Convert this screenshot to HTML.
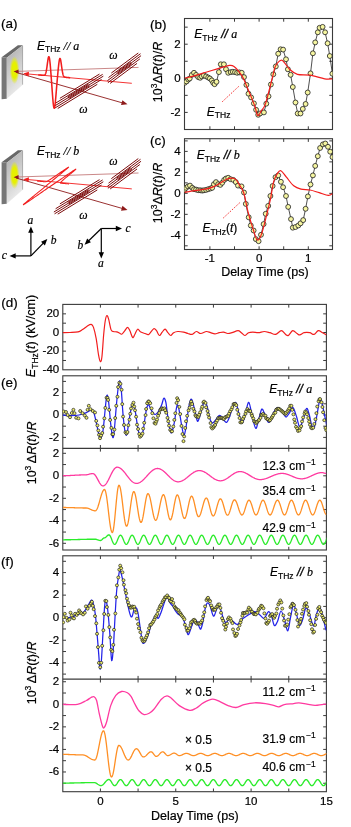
<!DOCTYPE html>
<html><head><meta charset="utf-8"><style>
html,body{margin:0;padding:0;background:#fff;}
svg{display:block;will-change:transform;}
text{font-family:"Liberation Sans",sans-serif;fill:#000;stroke:#000;stroke-width:0.2px;}
.serif{font-family:"Liberation Serif",serif;}
</style></head><body>
<svg width="351" height="827" viewBox="0 0 351 827">
<rect width="351" height="827" fill="#fff"/>
<text x="0.9" y="28.4" font-size="13.5" text-anchor="start" >(a)</text>
<text x="150.1" y="28.5" font-size="13.5" text-anchor="start" >(b)</text>
<text x="150" y="145.4" font-size="13.5" text-anchor="start" >(c)</text>
<text x="1.2" y="307.3" font-size="13.5" text-anchor="start" >(d)</text>
<text x="1" y="386.9" font-size="13.5" text-anchor="start" >(e)</text>
<text x="0.9" y="566.4" font-size="13.5" text-anchor="start" >(f)</text>
<rect x="184.5" y="18.5" width="148" height="111" fill="none" stroke="#3a3a3a" stroke-width="1.1"/>
<path d="M209.9,18.5v3.2M209.9,129.5v-3.2M234.5,18.5v3.2M234.5,129.5v-3.2M259.1,18.5v3.2M259.1,129.5v-3.2M283.7,18.5v3.2M283.7,129.5v-3.2M308.3,18.5v3.2M308.3,129.5v-3.2" stroke="#3a3a3a" stroke-width="1"/>
<path d="M184.5,27.15h3.2M332.5,27.15h-3.2M184.5,44.2h3.2M332.5,44.2h-3.2M184.5,61.25h3.2M332.5,61.25h-3.2M184.5,78.3h3.2M332.5,78.3h-3.2M184.5,95.35h3.2M332.5,95.35h-3.2M184.5,112.4h3.2M332.5,112.4h-3.2" stroke="#3a3a3a" stroke-width="1"/>
<text x="180.7" y="47.6" font-size="11.5" text-anchor="end" >2</text>
<text x="180.7" y="81.7" font-size="11.5" text-anchor="end" >0</text>
<text x="180.7" y="115.8" font-size="11.5" text-anchor="end" >-2</text>
<rect x="184.5" y="138.7" width="148" height="110.8" fill="none" stroke="#3a3a3a" stroke-width="1.1"/>
<path d="M209.9,138.7v3.2M209.9,249.5v-3.2M234.5,138.7v3.2M234.5,249.5v-3.2M259.1,138.7v3.2M259.1,249.5v-3.2M283.7,138.7v3.2M283.7,249.5v-3.2M308.3,138.7v3.2M308.3,249.5v-3.2" stroke="#3a3a3a" stroke-width="1"/>
<path d="M184.5,140.9h3.2M332.5,140.9h-3.2M184.5,151.39h3.2M332.5,151.39h-3.2M184.5,161.88h3.2M332.5,161.88h-3.2M184.5,172.37h3.2M332.5,172.37h-3.2M184.5,182.86h3.2M332.5,182.86h-3.2M184.5,193.35h3.2M332.5,193.35h-3.2M184.5,203.84h3.2M332.5,203.84h-3.2M184.5,214.33h3.2M332.5,214.33h-3.2M184.5,224.82h3.2M332.5,224.82h-3.2M184.5,235.31h3.2M332.5,235.31h-3.2M184.5,245.8h3.2M332.5,245.8h-3.2" stroke="#3a3a3a" stroke-width="1"/>
<text x="180.7" y="154.79" font-size="11.5" text-anchor="end" >4</text>
<text x="180.7" y="175.77" font-size="11.5" text-anchor="end" >2</text>
<text x="180.7" y="196.75" font-size="11.5" text-anchor="end" >0</text>
<text x="180.7" y="217.73" font-size="11.5" text-anchor="end" >-2</text>
<text x="180.7" y="238.71" font-size="11.5" text-anchor="end" >-4</text>
<text x="209.9" y="262" font-size="11.5" text-anchor="middle" >-1</text>
<text x="259.1" y="262" font-size="11.5" text-anchor="middle" >0</text>
<text x="308.3" y="262" font-size="11.5" text-anchor="middle" >1</text>
<text x="264.9" y="276.2" font-size="12.5" text-anchor="middle" >Delay Time (ps)</text>
<text transform="translate(161.8,72) rotate(-90)" font-size="12.5" text-anchor="middle">10<tspan font-size="8.5" dy="-4.5">3</tspan><tspan dy="4.5">&#916;</tspan><tspan font-style="italic">R</tspan>(<tspan font-style="italic">t</tspan>)/<tspan font-style="italic">R</tspan></text>
<text transform="translate(161.8,193) rotate(-90)" font-size="12.5" text-anchor="middle">10<tspan font-size="8.5" dy="-4.5">3</tspan><tspan dy="4.5">&#916;</tspan><tspan font-style="italic">R</tspan>(<tspan font-style="italic">t</tspan>)/<tspan font-style="italic">R</tspan></text>
<rect x="62.8" y="304.4" width="263.6" height="65.4" fill="none" stroke="#3a3a3a" stroke-width="1.1"/>
<path d="M100.4,304.4v3.2M100.4,369.8v-3.2M138.07,304.4v3.2M138.07,369.8v-3.2M175.75,304.4v3.2M175.75,369.8v-3.2M213.43,304.4v3.2M213.43,369.8v-3.2M251.1,304.4v3.2M251.1,369.8v-3.2M288.77,304.4v3.2M288.77,369.8v-3.2" stroke="#3a3a3a" stroke-width="1"/>
<path d="M62.8,313.85h3.2M326.4,313.85h-3.2M62.8,323.18h3.2M326.4,323.18h-3.2M62.8,332.5h3.2M326.4,332.5h-3.2M62.8,341.82h3.2M326.4,341.82h-3.2M62.8,351.15h3.2M326.4,351.15h-3.2M62.8,360.48h3.2M326.4,360.48h-3.2" stroke="#3a3a3a" stroke-width="1"/>
<text x="59.2" y="317.15" font-size="11.5" text-anchor="end" >20</text>
<text x="59.2" y="335.8" font-size="11.5" text-anchor="end" >0</text>
<text x="59.2" y="354.45" font-size="11.5" text-anchor="end" >-20</text>
<text x="59.2" y="373.1" font-size="11.5" text-anchor="end" >-40</text>
<text transform="translate(35.2,336) rotate(-90)" font-size="12.5" text-anchor="middle"><tspan font-style="italic">E</tspan><tspan font-size="8.5" dy="2.5">THz</tspan><tspan dy="-2.5">(</tspan><tspan font-style="italic">t</tspan>) (kV/cm)</text>
<rect x="62.8" y="375.8" width="263.6" height="174.2" fill="none" stroke="#3a3a3a" stroke-width="1.1"/>
<path d="M62.8,448.3H326.4" stroke="#3a3a3a" stroke-width="1.2"/>
<path d="M100.4,375.8v3.2M100.4,550v-3.2M138.07,375.8v3.2M138.07,550v-3.2M175.75,375.8v3.2M175.75,550v-3.2M213.43,375.8v3.2M213.43,550v-3.2M251.1,375.8v3.2M251.1,550v-3.2M288.77,375.8v3.2M288.77,550v-3.2" stroke="#3a3a3a" stroke-width="1"/>
<path d="M100.4,445v6.6M138.07,445v6.6M175.75,445v6.6M213.43,445v6.6M251.1,445v6.6M288.77,445v6.6" stroke="#3a3a3a" stroke-width="1"/>
<path d="M62.8,381.4h3.2M326.4,381.4h-3.2M62.8,392.6h3.2M326.4,392.6h-3.2M62.8,403.8h3.2M326.4,403.8h-3.2M62.8,415h3.2M326.4,415h-3.2M62.8,426.2h3.2M326.4,426.2h-3.2M62.8,437.4h3.2M326.4,437.4h-3.2" stroke="#3a3a3a" stroke-width="1"/>
<path d="M62.8,453.3h3.2M326.4,453.3h-3.2M62.8,464.55h3.2M326.4,464.55h-3.2M62.8,475.8h3.2M326.4,475.8h-3.2M62.8,487.05h3.2M326.4,487.05h-3.2M62.8,498.3h3.2M326.4,498.3h-3.2M62.8,509.55h3.2M326.4,509.55h-3.2M62.8,520.8h3.2M326.4,520.8h-3.2M62.8,532.05h3.2M326.4,532.05h-3.2M62.8,543.3h3.2M326.4,543.3h-3.2" stroke="#3a3a3a" stroke-width="1"/>
<text x="59.2" y="395.9" font-size="11.5" text-anchor="end" >2</text>
<text x="59.2" y="418.3" font-size="11.5" text-anchor="end" >0</text>
<text x="59.2" y="440.7" font-size="11.5" text-anchor="end" >-2</text>
<text x="59.2" y="456.6" font-size="11.5" text-anchor="end" >2</text>
<text x="59.2" y="479.1" font-size="11.5" text-anchor="end" >0</text>
<text x="59.2" y="501.6" font-size="11.5" text-anchor="end" >-2</text>
<text x="59.2" y="524.1" font-size="11.5" text-anchor="end" >-4</text>
<text x="59.2" y="546.6" font-size="11.5" text-anchor="end" >-6</text>
<text transform="translate(35.6,452.9) rotate(-90)" font-size="12.5" text-anchor="middle">10<tspan font-size="8.5" dy="-4.5">3</tspan><tspan dy="4.5">&#8201;&#916;</tspan><tspan font-style="italic">R</tspan>(<tspan font-style="italic">t</tspan>)/<tspan font-style="italic">R</tspan></text>
<rect x="62.8" y="555.8" width="263.6" height="235.9" fill="none" stroke="#3a3a3a" stroke-width="1.1"/>
<path d="M62.8,679.2H326.4" stroke="#3a3a3a" stroke-width="1.2"/>
<path d="M100.4,555.8v3.2M100.4,791.7v-3.2M138.07,555.8v3.2M138.07,791.7v-3.2M175.75,555.8v3.2M175.75,791.7v-3.2M213.43,555.8v3.2M213.43,791.7v-3.2M251.1,555.8v3.2M251.1,791.7v-3.2M288.77,555.8v3.2M288.77,791.7v-3.2" stroke="#3a3a3a" stroke-width="1"/>
<path d="M100.4,675.9v6.6M138.07,675.9v6.6M175.75,675.9v6.6M213.43,675.9v6.6M251.1,675.9v6.6M288.77,675.9v6.6" stroke="#3a3a3a" stroke-width="1"/>
<path d="M62.8,561.3h3.2M326.4,561.3h-3.2M62.8,572.58h3.2M326.4,572.58h-3.2M62.8,583.86h3.2M326.4,583.86h-3.2M62.8,595.14h3.2M326.4,595.14h-3.2M62.8,606.42h3.2M326.4,606.42h-3.2M62.8,617.7h3.2M326.4,617.7h-3.2M62.8,628.98h3.2M326.4,628.98h-3.2M62.8,640.26h3.2M326.4,640.26h-3.2M62.8,651.54h3.2M326.4,651.54h-3.2M62.8,662.82h3.2M326.4,662.82h-3.2M62.8,674.1h3.2M326.4,674.1h-3.2" stroke="#3a3a3a" stroke-width="1"/>
<path d="M62.8,681.74h3.2M326.4,681.74h-3.2M62.8,693.02h3.2M326.4,693.02h-3.2M62.8,704.3h3.2M326.4,704.3h-3.2M62.8,715.58h3.2M326.4,715.58h-3.2M62.8,726.86h3.2M326.4,726.86h-3.2M62.8,738.14h3.2M326.4,738.14h-3.2M62.8,749.42h3.2M326.4,749.42h-3.2M62.8,760.7h3.2M326.4,760.7h-3.2M62.8,771.98h3.2M326.4,771.98h-3.2M62.8,783.26h3.2M326.4,783.26h-3.2" stroke="#3a3a3a" stroke-width="1"/>
<text x="59.2" y="575.88" font-size="11.5" text-anchor="end" >4</text>
<text x="59.2" y="598.44" font-size="11.5" text-anchor="end" >2</text>
<text x="59.2" y="621" font-size="11.5" text-anchor="end" >0</text>
<text x="59.2" y="643.56" font-size="11.5" text-anchor="end" >-2</text>
<text x="59.2" y="666.12" font-size="11.5" text-anchor="end" >-4</text>
<text x="59.2" y="685.04" font-size="11.5" text-anchor="end" >2</text>
<text x="59.2" y="707.6" font-size="11.5" text-anchor="end" >0</text>
<text x="59.2" y="730.16" font-size="11.5" text-anchor="end" >-2</text>
<text x="59.2" y="752.72" font-size="11.5" text-anchor="end" >-4</text>
<text x="59.2" y="775.28" font-size="11.5" text-anchor="end" >-6</text>
<text transform="translate(35.6,672.9) rotate(-90)" font-size="12.5" text-anchor="middle">10<tspan font-size="8.5" dy="-4.5">3</tspan><tspan dy="4.5">&#8201;&#916;</tspan><tspan font-style="italic">R</tspan>(<tspan font-style="italic">t</tspan>)/<tspan font-style="italic">R</tspan></text>
<text x="100.4" y="805.3" font-size="11.5" text-anchor="middle" >0</text>
<text x="175.75" y="805.3" font-size="11.5" text-anchor="middle" >5</text>
<text x="251.1" y="805.3" font-size="11.5" text-anchor="middle" >10</text>
<text x="326.45" y="805.3" font-size="11.5" text-anchor="middle" >15</text>
<text x="194.8" y="820.3" font-size="12.5" text-anchor="middle" >Delay Time (ps)</text>
<defs><clipPath id="cb"><rect x="184.5" y="18.5" width="148" height="111"/></clipPath><clipPath id="cc"><rect x="184.5" y="138.7" width="148" height="110.8"/></clipPath><clipPath id="cd"><rect x="62.8" y="304.4" width="263.6" height="65.4"/></clipPath><clipPath id="ce1"><rect x="62.8" y="375.8" width="263.6" height="72.5"/></clipPath><clipPath id="ce2"><rect x="62.8" y="448.3" width="263.6" height="101.7"/></clipPath><clipPath id="cf1"><rect x="62.8" y="555.8" width="263.6" height="123.4"/></clipPath><clipPath id="cf2"><rect x="62.8" y="679.2" width="263.6" height="112.5"/></clipPath></defs>
<g clip-path="url(#cb)">
<path d="M184.7,82.8L186.6,81.4L188.3,79.5L189.7,78.5L191.8,74.9L194,72.8L196.1,74.9L198.2,77.1L200.1,77.8L201.8,76.4L203.9,75.4L206.1,76.4L208.2,77.5L209.9,78.5L211.8,80.4L213.2,82.8L214.6,84.2L216.5,81.8L218.9,72.1L220.8,64.3L223.9,64.3L226,69.2L228.2,72.8L230.7,72.1L232.8,71.8L235,72.1L237.1,72.8L239.3,72.4L241.7,72.8L244,77.1L246.4,84.9L248.5,93.7L251.1,97.4L253.9,103.4L256.1,109.8L258.2,114.8L260.2,113.4L263.9,112.4L266.3,103.7L268.5,96.3L270.9,84.5L273.3,74.3L275.8,66.4L278.2,53.7L280.6,49.3L283.1,49.6L286,59.3L287.9,69.3L290.6,74.8L292.8,87L295.5,102.5L297.7,113.5L300.5,113.5L302.8,108.9L305.6,104L307.7,92.5L310.5,73.4L312.9,53.3L315.2,42.4L317.8,32.3L319.6,27.8L322.6,26.9L325.1,32.3L327.6,43.3L329.8,56L332.4,73.7" fill="none" stroke="#222" stroke-width="0.8" stroke-linejoin="round" />
<g fill="#f5f5a0" stroke="#1e1e1e" stroke-width="0.8"><circle cx="184.7" cy="82.8" r="2.45"/><circle cx="186.6" cy="81.4" r="2.45"/><circle cx="188.3" cy="79.5" r="2.45"/><circle cx="189.7" cy="78.5" r="2.45"/><circle cx="191.8" cy="74.9" r="2.45"/><circle cx="194" cy="72.8" r="2.45"/><circle cx="196.1" cy="74.9" r="2.45"/><circle cx="198.2" cy="77.1" r="2.45"/><circle cx="200.1" cy="77.8" r="2.45"/><circle cx="201.8" cy="76.4" r="2.45"/><circle cx="203.9" cy="75.4" r="2.45"/><circle cx="206.1" cy="76.4" r="2.45"/><circle cx="208.2" cy="77.5" r="2.45"/><circle cx="209.9" cy="78.5" r="2.45"/><circle cx="211.8" cy="80.4" r="2.45"/><circle cx="213.2" cy="82.8" r="2.45"/><circle cx="214.6" cy="84.2" r="2.45"/><circle cx="216.5" cy="81.8" r="2.45"/><circle cx="218.9" cy="72.1" r="2.45"/><circle cx="220.8" cy="64.3" r="2.45"/><circle cx="223.9" cy="64.3" r="2.45"/><circle cx="226" cy="69.2" r="2.45"/><circle cx="228.2" cy="72.8" r="2.45"/><circle cx="230.7" cy="72.1" r="2.45"/><circle cx="232.8" cy="71.8" r="2.45"/><circle cx="235" cy="72.1" r="2.45"/><circle cx="237.1" cy="72.8" r="2.45"/><circle cx="239.3" cy="72.4" r="2.45"/><circle cx="241.7" cy="72.8" r="2.45"/><circle cx="244" cy="77.1" r="2.45"/><circle cx="246.4" cy="84.9" r="2.45"/><circle cx="248.5" cy="93.7" r="2.45"/><circle cx="251.1" cy="97.4" r="2.45"/><circle cx="253.9" cy="103.4" r="2.45"/><circle cx="256.1" cy="109.8" r="2.45"/><circle cx="258.2" cy="114.8" r="2.45"/><circle cx="260.2" cy="113.4" r="2.45"/><circle cx="263.9" cy="112.4" r="2.45"/><circle cx="266.3" cy="103.7" r="2.45"/><circle cx="268.5" cy="96.3" r="2.45"/><circle cx="270.9" cy="84.5" r="2.45"/><circle cx="273.3" cy="74.3" r="2.45"/><circle cx="275.8" cy="66.4" r="2.45"/><circle cx="278.2" cy="53.7" r="2.45"/><circle cx="280.6" cy="49.3" r="2.45"/><circle cx="283.1" cy="49.6" r="2.45"/><circle cx="286" cy="59.3" r="2.45"/><circle cx="287.9" cy="69.3" r="2.45"/><circle cx="290.6" cy="74.8" r="2.45"/><circle cx="292.8" cy="87" r="2.45"/><circle cx="295.5" cy="102.5" r="2.45"/><circle cx="297.7" cy="113.5" r="2.45"/><circle cx="300.5" cy="113.5" r="2.45"/><circle cx="302.8" cy="108.9" r="2.45"/><circle cx="305.6" cy="104" r="2.45"/><circle cx="307.7" cy="92.5" r="2.45"/><circle cx="310.5" cy="73.4" r="2.45"/><circle cx="312.9" cy="53.3" r="2.45"/><circle cx="315.2" cy="42.4" r="2.45"/><circle cx="317.8" cy="32.3" r="2.45"/><circle cx="319.6" cy="27.8" r="2.45"/><circle cx="322.6" cy="26.9" r="2.45"/><circle cx="325.1" cy="32.3" r="2.45"/><circle cx="327.6" cy="43.3" r="2.45"/><circle cx="329.8" cy="56" r="2.45"/><circle cx="332.4" cy="73.7" r="2.45"/></g>
<path d="M184.5,78.2C186.25,77.77 191.42,76.6 195,75.6C198.58,74.6 202.28,73.32 206,72.2C209.72,71.08 213.57,70 217.3,68.9C221.03,67.8 225.62,66 228.4,65.6C231.18,65.2 231.77,64.83 234,66.5C236.23,68.17 239.8,72.62 241.8,75.6C243.8,78.58 244.52,81.07 246,84.4C247.48,87.73 249.2,91.88 250.7,95.6C252.2,99.32 253.82,103.37 255,106.7C256.18,110.03 256.72,114.97 257.8,115.6C258.88,116.23 260.2,112.53 261.5,110.5C262.8,108.47 263.73,109.08 265.6,103.4C267.47,97.72 271.05,82.62 272.7,76.4C274.35,70.18 274.12,68.8 275.5,66.1C276.88,63.4 279.48,60.75 281,60.2C282.52,59.65 283.1,61.22 284.6,62.8C286.1,64.38 287.87,67.78 290,69.7C292.13,71.62 294.05,73.38 297.4,74.3C300.75,75.22 305.55,74.45 310.1,75.2C314.65,75.95 320.97,78.2 324.7,78.8C328.43,79.4 331.2,78.8 332.5,78.8" fill="none" stroke="#f21d1d" stroke-width="1.2" stroke-linejoin="round" />
</g>
<g clip-path="url(#cc)">
<path d="M184.4,189.9L186.1,187.8L188,186.4L190,185.6L192.3,187.8L194,189.2L196.1,189.6L198.2,190.2L200.4,190.3L202.2,190.6L203.9,190.3L206.1,189.9L208.2,189.2L210.4,188.5L212.2,187.8L213.9,184.2L216,182.1L218.2,184.2L220.3,184.9L222.2,182.8L224.2,179.9L226,178.5L228.2,177.8L230.6,179.2L233.3,179.9L235.8,182.1L238,185.6L241.5,186.4L244,192.5L245.8,203.9L248.7,217.3L250.8,225.5L253.6,230.5L255.8,239.1L258.6,241.2L261,234.8L263.6,224.1L265.7,213.8L268.2,205.9L270.4,196L272.6,186L275.5,177.2L278.2,175.4L280.9,181.8L283.1,187.2L286,196L288.2,206.9L291,219.1L292.8,227.7L295.5,227L298.3,225.5L300.6,223.3L303.2,220.1L305.6,208.8L307.9,196.4L310.5,184.5L312.9,175.4L315.2,165.9L317.8,156.2L320.1,148L322.9,144.4L325.3,143.5L328,146.8L330.2,151.7L332.5,157.1" fill="none" stroke="#222" stroke-width="0.8" stroke-linejoin="round" />
<g fill="#f5f5a0" stroke="#1e1e1e" stroke-width="0.8"><circle cx="184.4" cy="189.9" r="2.45"/><circle cx="186.1" cy="187.8" r="2.45"/><circle cx="188" cy="186.4" r="2.45"/><circle cx="190" cy="185.6" r="2.45"/><circle cx="192.3" cy="187.8" r="2.45"/><circle cx="194" cy="189.2" r="2.45"/><circle cx="196.1" cy="189.6" r="2.45"/><circle cx="198.2" cy="190.2" r="2.45"/><circle cx="200.4" cy="190.3" r="2.45"/><circle cx="202.2" cy="190.6" r="2.45"/><circle cx="203.9" cy="190.3" r="2.45"/><circle cx="206.1" cy="189.9" r="2.45"/><circle cx="208.2" cy="189.2" r="2.45"/><circle cx="210.4" cy="188.5" r="2.45"/><circle cx="212.2" cy="187.8" r="2.45"/><circle cx="213.9" cy="184.2" r="2.45"/><circle cx="216" cy="182.1" r="2.45"/><circle cx="218.2" cy="184.2" r="2.45"/><circle cx="220.3" cy="184.9" r="2.45"/><circle cx="222.2" cy="182.8" r="2.45"/><circle cx="224.2" cy="179.9" r="2.45"/><circle cx="226" cy="178.5" r="2.45"/><circle cx="228.2" cy="177.8" r="2.45"/><circle cx="230.6" cy="179.2" r="2.45"/><circle cx="233.3" cy="179.9" r="2.45"/><circle cx="235.8" cy="182.1" r="2.45"/><circle cx="238" cy="185.6" r="2.45"/><circle cx="241.5" cy="186.4" r="2.45"/><circle cx="244" cy="192.5" r="2.45"/><circle cx="245.8" cy="203.9" r="2.45"/><circle cx="248.7" cy="217.3" r="2.45"/><circle cx="250.8" cy="225.5" r="2.45"/><circle cx="253.6" cy="230.5" r="2.45"/><circle cx="255.8" cy="239.1" r="2.45"/><circle cx="258.6" cy="241.2" r="2.45"/><circle cx="261" cy="234.8" r="2.45"/><circle cx="263.6" cy="224.1" r="2.45"/><circle cx="265.7" cy="213.8" r="2.45"/><circle cx="268.2" cy="205.9" r="2.45"/><circle cx="270.4" cy="196" r="2.45"/><circle cx="272.6" cy="186" r="2.45"/><circle cx="275.5" cy="177.2" r="2.45"/><circle cx="278.2" cy="175.4" r="2.45"/><circle cx="280.9" cy="181.8" r="2.45"/><circle cx="283.1" cy="187.2" r="2.45"/><circle cx="286" cy="196" r="2.45"/><circle cx="288.2" cy="206.9" r="2.45"/><circle cx="291" cy="219.1" r="2.45"/><circle cx="292.8" cy="227.7" r="2.45"/><circle cx="295.5" cy="227" r="2.45"/><circle cx="298.3" cy="225.5" r="2.45"/><circle cx="300.6" cy="223.3" r="2.45"/><circle cx="303.2" cy="220.1" r="2.45"/><circle cx="305.6" cy="208.8" r="2.45"/><circle cx="307.9" cy="196.4" r="2.45"/><circle cx="310.5" cy="184.5" r="2.45"/><circle cx="312.9" cy="175.4" r="2.45"/><circle cx="315.2" cy="165.9" r="2.45"/><circle cx="317.8" cy="156.2" r="2.45"/><circle cx="320.1" cy="148" r="2.45"/><circle cx="322.9" cy="144.4" r="2.45"/><circle cx="325.3" cy="143.5" r="2.45"/><circle cx="328" cy="146.8" r="2.45"/><circle cx="330.2" cy="151.7" r="2.45"/><circle cx="332.5" cy="157.1" r="2.45"/></g>
<path d="M184.5,192.5C185.6,192.27 188.82,191.48 191.1,191.1C193.38,190.72 195.82,190.52 198.2,190.2C200.58,189.88 203.02,189.72 205.4,189.2C207.78,188.68 210.13,188.05 212.5,187.1C214.87,186.15 217.23,184.82 219.6,183.5C221.97,182.18 224.63,180.08 226.7,179.2C228.77,178.32 230.45,178.13 232,178.2C233.55,178.27 234.77,178.48 236,179.6C237.23,180.72 238.12,182.7 239.4,184.9C240.68,187.1 242.28,188.4 243.7,192.8C245.12,197.2 246.37,205.37 247.9,211.3C249.43,217.23 251.35,223.65 252.9,228.4C254.45,233.15 255.77,238.85 257.2,239.8C258.63,240.75 259.83,238.62 261.5,234.1C263.17,229.58 265.7,218.55 267.2,212.7C268.7,206.85 269.43,204.15 270.5,199C271.57,193.85 272.47,186.03 273.6,181.8C274.73,177.57 276.08,175.43 277.3,173.6C278.52,171.77 279.38,170.2 280.9,170.8C282.42,171.4 284.27,174.7 286.4,177.2C288.53,179.7 291.27,183.82 293.7,185.8C296.13,187.78 298.27,188.4 301,189.1C303.73,189.8 307.07,189.4 310.1,190C313.13,190.6 316.15,191.8 319.2,192.7C322.25,193.6 326.18,195.25 328.4,195.4C330.62,195.55 331.82,193.9 332.5,193.6" fill="none" stroke="#f21d1d" stroke-width="1.2" stroke-linejoin="round" />
</g>
<path d="M222.2,101.8L239.6,85.6M223.2,218.1L240.3,202.2" stroke="#f21d1d" stroke-width="0.9" stroke-dasharray="1.6,1.4" fill="none"/>
<text x="206.8" y="115.6" font-size="12"><tspan font-style="italic">E</tspan><tspan font-size="8.5" dy="2.7">THz</tspan></text>
<text x="202.4" y="231.8" font-size="12"><tspan font-style="italic">E</tspan><tspan font-size="8.5" dy="2.7">THz</tspan><tspan dy="-2.7">(</tspan><tspan font-style="italic">t</tspan>)</text>
<text x="194.2" y="38.3" font-size="12"><tspan font-style="italic">E</tspan><tspan font-size="8.5" dy="2.7">THz</tspan><tspan dy="-2.7" font-style="italic" style="stroke-width:0.35px"> // </tspan><tspan class="serif" font-style="italic">a</tspan></text>
<text x="196.7" y="159.2" font-size="12"><tspan font-style="italic">E</tspan><tspan font-size="8.5" dy="2.7">THz</tspan><tspan dy="-2.7" font-style="italic" style="stroke-width:0.35px"> // </tspan><tspan class="serif" font-style="italic">b</tspan></text>
<g clip-path="url(#cd)">
<path d="M62.8,332.6C64,332.58 67.47,332.62 70,332.5C72.53,332.38 75.92,332.38 78,331.9C80.08,331.42 80.98,330.55 82.5,329.6C84.02,328.65 85.65,327.07 87.1,326.2C88.55,325.33 90.13,324.2 91.2,324.4C92.27,324.6 92.67,325.02 93.5,327.4C94.33,329.78 95.37,334.15 96.2,338.7C97.03,343.25 97.82,350.9 98.5,354.7C99.18,358.5 99.73,361.12 100.3,361.5C100.87,361.88 101.33,361.55 101.9,357C102.47,352.45 103.13,340.28 103.7,334.2C104.27,328.12 104.77,323.62 105.3,320.5C105.83,317.38 106.33,315.68 106.9,315.5C107.47,315.32 108.02,317.05 108.7,319.4C109.38,321.75 110.23,327.58 111,329.6C111.77,331.62 112.35,331.12 113.3,331.5C114.25,331.88 115.68,331.65 116.7,331.9C117.72,332.15 118.57,332.62 119.4,333C120.23,333.38 120.82,334.57 121.7,334.2C122.58,333.83 123.72,331.93 124.7,330.8C125.68,329.67 126.73,327.4 127.6,327.4C128.47,327.4 129.05,329.1 129.9,330.8C130.75,332.5 131.87,337.03 132.7,337.6C133.53,338.17 134.07,335.6 134.9,334.2C135.73,332.8 136.72,329.55 137.7,329.2C138.68,328.85 139.57,331.38 140.8,332.1C142.03,332.82 143.77,333.12 145.1,333.5C146.43,333.88 147.37,335.2 148.8,334.4C150.23,333.6 152.42,329.32 153.7,328.7C154.98,328.08 155.55,329.57 156.5,330.7C157.45,331.83 158.45,335.27 159.4,335.5C160.35,335.73 161.25,333.15 162.2,332.1C163.15,331.05 164.15,329.1 165.1,329.2C166.05,329.3 166.95,331.65 167.9,332.7C168.85,333.75 169.85,335.5 170.8,335.5C171.75,335.5 172.42,333.37 173.6,332.7C174.78,332.03 176.23,331.6 177.9,331.5C179.57,331.4 181.93,331.77 183.6,332.1C185.27,332.43 186.48,333.12 187.9,333.5C189.32,333.88 190.68,334.73 192.1,334.4C193.52,334.07 194.97,331.65 196.4,331.5C197.83,331.35 199.03,333.5 200.7,333.5C202.37,333.5 204.75,331.63 206.4,331.5C208.05,331.37 209.18,332.32 210.6,332.7C212.02,333.08 213.47,333.8 214.9,333.8C216.33,333.8 217.77,332.98 219.2,332.7C220.63,332.42 222.08,331.97 223.5,332.1C224.92,332.23 226.28,333.4 227.7,333.5C229.12,333.6 230.28,333.17 232,332.7C233.72,332.23 236.43,330.7 238,330.7C239.57,330.7 240.27,331.9 241.4,332.7C242.53,333.5 243.62,335.5 244.8,335.5C245.98,335.5 247.17,333.27 248.5,332.7C249.83,332.13 251.13,332.1 252.8,332.1C254.47,332.1 256.6,332.8 258.5,332.7C260.4,332.6 262.3,331.5 264.2,331.5C266.1,331.5 268,332.22 269.9,332.7C271.8,333.18 273.7,334.73 275.6,334.4C277.5,334.07 279.63,330.7 281.3,330.7C282.97,330.7 284.42,333.6 285.6,334.4C286.78,335.2 287.22,336.12 288.4,335.5C289.58,334.88 291.27,331.03 292.7,330.7C294.13,330.37 295.82,332.8 297,333.5C298.18,334.2 298.62,335.03 299.8,334.9C300.98,334.77 302.43,333.07 304.1,332.7C305.77,332.33 308.15,332.42 309.8,332.7C311.45,332.98 312.58,334.73 314,334.4C315.42,334.07 316.87,330.98 318.3,330.7C319.73,330.42 321.25,332 322.6,332.7C323.95,333.4 325.77,334.53 326.4,334.9" fill="none" stroke="#f21d1d" stroke-width="1.2" stroke-linejoin="round" />
</g>
<g clip-path="url(#ce1)">
<path d="M62.8,415.2C64.08,415.28 67.78,415.73 70.5,415.7C73.22,415.67 76.53,415.48 79.1,415C81.67,414.52 83.9,413.6 85.9,412.8C87.9,412 89.82,410.35 91.1,410.2C92.38,410.05 92.75,409.9 93.6,411.9C94.45,413.9 95.33,418.5 96.2,422.2C97.07,425.9 98.08,431.4 98.8,434.1C99.52,436.8 99.8,438.97 100.5,438.4C101.2,437.83 102.23,435.4 103,430.7C103.77,426 104.47,416.03 105.1,410.2C105.73,404.37 106.23,397.27 106.8,395.7C107.37,394.13 107.85,396.1 108.5,400.8C109.15,405.5 110.02,417.87 110.7,423.9C111.38,429.93 112.03,435.58 112.6,437C113.17,438.42 113.47,437.72 114.1,432.4C114.73,427.08 115.68,412.83 116.4,405.1C117.12,397.37 117.82,390 118.4,386C118.98,382 119.4,380.2 119.9,381.1C120.4,382 120.87,385.7 121.4,391.4C121.93,397.1 122.47,408.47 123.1,415.3C123.73,422.13 124.57,429.27 125.2,432.4C125.83,435.53 126.25,436.1 126.9,434.1C127.55,432.1 128.3,425.1 129.1,420.4C129.9,415.7 130.98,408.6 131.7,405.9C132.42,403.2 132.83,403.48 133.4,404.2C133.97,404.92 134.38,406.35 135.1,410.2C135.82,414.05 136.85,422.88 137.7,427.3C138.55,431.72 139.35,435.85 140.2,436.7C141.05,437.55 141.93,435.97 142.8,432.4C143.67,428.83 144.68,419.57 145.4,415.3C146.12,411.03 146.53,408.5 147.1,406.8C147.67,405.1 148.1,404.53 148.8,405.1C149.5,405.67 150.3,408.63 151.3,410.2C152.3,411.77 153.65,414.22 154.8,414.5C155.95,414.78 157.07,413.47 158.2,411.9C159.33,410.33 160.67,407.38 161.6,405.1C162.53,402.82 163.08,398.63 163.8,398.2C164.52,397.77 165.27,399.65 165.9,402.5C166.53,405.35 166.9,410.75 167.6,415.3C168.3,419.85 169.4,426.95 170.1,429.8C170.8,432.65 171.08,433.67 171.8,432.4C172.52,431.13 173.68,425.9 174.4,422.2C175.12,418.5 175.6,413.15 176.1,410.2C176.6,407.25 176.9,404.5 177.4,404.5C177.9,404.5 178.38,406.68 179.1,410.2C179.82,413.72 180.9,421.47 181.7,425.6C182.5,429.73 183.18,434.72 183.9,435C184.62,435.28 185.23,431.72 186,427.3C186.77,422.88 187.65,413.2 188.5,408.5C189.35,403.8 190.23,399.53 191.1,399.1C191.97,398.67 192.85,402.92 193.7,405.9C194.55,408.88 195.5,414.43 196.2,417C196.9,419.57 197.18,421.87 197.9,421.3C198.62,420.73 199.58,416.58 200.5,413.6C201.42,410.62 202.6,405.4 203.4,403.4C204.2,401.4 204.65,401.03 205.3,401.6C205.95,402.17 206.53,403.95 207.3,406.8C208.07,409.65 209.03,416 209.9,418.7C210.77,421.4 211.5,422.85 212.5,423C213.5,423.15 214.85,420.82 215.9,419.6C216.95,418.38 217.95,416.27 218.8,415.7C219.65,415.13 220.07,415.35 221,416.2C221.93,417.05 223.43,419.8 224.4,420.8C225.37,421.8 225.95,422.83 226.8,422.2C227.65,421.57 228.62,419.2 229.5,417C230.38,414.8 231.05,411.43 232.1,409C233.15,406.57 234.65,401.57 235.8,402.4C236.95,403.23 237.9,410.6 239,414C240.1,417.4 241.32,422.97 242.4,422.8C243.48,422.63 244.42,416.4 245.5,413C246.58,409.6 247.73,401.57 248.9,402.4C250.07,403.23 251.35,413.68 252.5,418C253.65,422.32 254.8,427.9 255.8,428.3C256.8,428.7 257.53,423.57 258.5,420.4C259.47,417.23 260.65,410.57 261.6,409.3C262.55,408.03 263.33,411.08 264.2,412.8C265.07,414.52 265.95,418.03 266.8,419.6C267.65,421.17 268.32,423.05 269.3,422.2C270.28,421.35 271.55,416.78 272.7,414.5C273.85,412.22 275.05,409.5 276.2,408.5C277.35,407.5 278.47,407.78 279.6,408.5C280.73,409.22 281.92,411.38 283,412.8C284.08,414.22 285.02,417 286.1,417C287.18,417 288.37,414.37 289.5,412.8C290.63,411.23 291.75,407.03 292.9,407.6C294.05,408.17 295.25,412.92 296.4,416.2C297.55,419.48 298.67,426.88 299.8,427.3C300.93,427.72 302.07,421.83 303.2,418.7C304.33,415.57 305.6,409.2 306.6,408.5C307.6,407.8 308.33,411.65 309.2,414.5C310.07,417.35 310.95,423.47 311.8,425.6C312.65,427.73 313.45,429.02 314.3,427.3C315.15,425.58 315.98,419.87 316.9,415.3C317.82,410.73 318.95,401.88 319.8,399.9C320.65,397.92 321.2,400.83 322,403.4C322.8,405.97 323.83,411.75 324.6,415.3C325.37,418.85 326.27,423.13 326.6,424.7" fill="none" stroke="#2323e8" stroke-width="1.25" stroke-linejoin="round" />
<g fill="#eded6a" stroke="#1e1e1e" stroke-width="0.7"><circle cx="63.7" cy="411.5" r="1.5"/><circle cx="66" cy="412" r="1.5"/><circle cx="67.7" cy="415" r="1.5"/><circle cx="70" cy="417.2" r="1.5"/><circle cx="71.8" cy="413" r="1.5"/><circle cx="73.4" cy="409.8" r="1.5"/><circle cx="74.5" cy="413.2" r="1.5"/><circle cx="76.2" cy="417.8" r="1.5"/><circle cx="78.5" cy="418.4" r="1.5"/><circle cx="80.2" cy="411" r="1.5"/><circle cx="82.5" cy="413.2" r="1.5"/><circle cx="84.8" cy="415.5" r="1.5"/><circle cx="86.5" cy="417.8" r="1.5"/><circle cx="87.6" cy="409.8" r="1.5"/><circle cx="88.8" cy="405.8" r="1.5"/><circle cx="90.5" cy="409.2" r="1.5"/><circle cx="92.8" cy="411" r="1.5"/><circle cx="95" cy="412.5" r="1.5"/><circle cx="96.19" cy="420.9" r="1.5"/><circle cx="97.39" cy="425.39" r="1.5"/><circle cx="98.32" cy="430.48" r="1.5"/><circle cx="99.03" cy="434.78" r="1.5"/><circle cx="100.02" cy="438.19" r="1.5"/><circle cx="101.04" cy="435.47" r="1.5"/><circle cx="102.25" cy="433.04" r="1.5"/><circle cx="103.07" cy="426.7" r="1.5"/><circle cx="104.38" cy="418.34" r="1.5"/><circle cx="105.35" cy="407.91" r="1.5"/><circle cx="106.59" cy="397.7" r="1.5"/><circle cx="107.52" cy="397.96" r="1.5"/><circle cx="108.09" cy="399.94" r="1.5"/><circle cx="109.19" cy="409.87" r="1.5"/><circle cx="110.11" cy="419.95" r="1.5"/><circle cx="111.38" cy="427.9" r="1.5"/><circle cx="112.33" cy="434.25" r="1.5"/><circle cx="113.04" cy="434.2" r="1.5"/><circle cx="114.41" cy="429.54" r="1.5"/><circle cx="115.19" cy="418.05" r="1.5"/><circle cx="116.27" cy="405.85" r="1.5"/><circle cx="117.48" cy="396.77" r="1.5"/><circle cx="118.15" cy="387.07" r="1.5"/><circle cx="119.32" cy="382.79" r="1.5"/><circle cx="120.44" cy="383.87" r="1.5"/><circle cx="121.59" cy="389.77" r="1.5"/><circle cx="122.25" cy="404.12" r="1.5"/><circle cx="123.09" cy="416.6" r="1.5"/><circle cx="124.02" cy="424.98" r="1.5"/><circle cx="125.46" cy="432.26" r="1.5"/><circle cx="126.53" cy="433.32" r="1.5"/><circle cx="127.42" cy="432.01" r="1.5"/><circle cx="128.35" cy="425.2" r="1.5"/><circle cx="129.5" cy="419.63" r="1.5"/><circle cx="130.28" cy="413.8" r="1.5"/><circle cx="131.04" cy="408.48" r="1.5"/><circle cx="132.39" cy="404.94" r="1.5"/><circle cx="133.49" cy="402.66" r="1.5"/><circle cx="134.23" cy="406.6" r="1.5"/><circle cx="135.01" cy="410.32" r="1.5"/><circle cx="136.1" cy="416.7" r="1.5"/><circle cx="137.04" cy="424.66" r="1.5"/><circle cx="138.08" cy="429" r="1.5"/><circle cx="139.23" cy="433.99" r="1.5"/><circle cx="140.05" cy="436.73" r="1.5"/><circle cx="141.33" cy="435.5" r="1.5"/><circle cx="142.49" cy="433.54" r="1.5"/><circle cx="143.17" cy="428.6" r="1.5"/><circle cx="144.22" cy="422.81" r="1.5"/><circle cx="145.57" cy="415.1" r="1.5"/><circle cx="146.11" cy="409" r="1.5"/><circle cx="147.14" cy="403.21" r="1.5"/><circle cx="148.35" cy="401.49" r="1.5"/><circle cx="149" cy="401.58" r="1.5"/><circle cx="150.22" cy="403.19" r="1.5"/><circle cx="151.57" cy="408.35" r="1.5"/><circle cx="152.31" cy="413.2" r="1.5"/><circle cx="153.41" cy="418.28" r="1.5"/><circle cx="154.54" cy="422.98" r="1.5"/><circle cx="155.52" cy="423.68" r="1.5"/><circle cx="156.24" cy="421.54" r="1.5"/><circle cx="157.06" cy="419.49" r="1.5"/><circle cx="158.04" cy="415.83" r="1.5"/><circle cx="159.13" cy="413.02" r="1.5"/><circle cx="160.2" cy="409.88" r="1.5"/><circle cx="161" cy="409" r="1.5"/><circle cx="162.06" cy="408.3" r="1.5"/><circle cx="163.02" cy="408.91" r="1.5"/><circle cx="164.37" cy="408.37" r="1.5"/><circle cx="165.15" cy="410.21" r="1.5"/><circle cx="166.22" cy="412.74" r="1.5"/><circle cx="167.51" cy="417.86" r="1.5"/><circle cx="168.28" cy="421.32" r="1.5"/><circle cx="169.05" cy="425.62" r="1.5"/><circle cx="170.21" cy="429.86" r="1.5"/><circle cx="171.5" cy="431.14" r="1.5"/><circle cx="172.01" cy="431.34" r="1.5"/><circle cx="173.32" cy="426.5" r="1.5"/><circle cx="174.33" cy="419.88" r="1.5"/><circle cx="175.32" cy="413.28" r="1.5"/><circle cx="176.52" cy="402.91" r="1.5"/><circle cx="177.16" cy="398.2" r="1.5"/><circle cx="178.1" cy="400.2" r="1.5"/><circle cx="179.32" cy="406.88" r="1.5"/><circle cx="180.2" cy="414.06" r="1.5"/><circle cx="181.49" cy="425.94" r="1.5"/><circle cx="182.51" cy="434.07" r="1.5"/><circle cx="183.49" cy="441.13" r="1.5"/><circle cx="184.14" cy="436.43" r="1.5"/><circle cx="185.21" cy="427.97" r="1.5"/><circle cx="186.02" cy="421.26" r="1.5"/><circle cx="187.16" cy="415.81" r="1.5"/><circle cx="188.57" cy="410.39" r="1.5"/><circle cx="189.56" cy="407.7" r="1.5"/><circle cx="190.57" cy="403.98" r="1.5"/><circle cx="191.13" cy="401.6" r="1.5"/><circle cx="192.12" cy="404.06" r="1.5"/><circle cx="193.37" cy="408.84" r="1.5"/><circle cx="194.5" cy="411.51" r="1.5"/><circle cx="195.39" cy="415.22" r="1.5"/><circle cx="196.05" cy="416.31" r="1.5"/><circle cx="197.55" cy="417" r="1.5"/><circle cx="198.45" cy="416.72" r="1.5"/><circle cx="199.11" cy="414.75" r="1.5"/><circle cx="200.2" cy="412.31" r="1.5"/><circle cx="201.58" cy="408.89" r="1.5"/><circle cx="202.24" cy="406.69" r="1.5"/><circle cx="203.43" cy="402.37" r="1.5"/><circle cx="204.08" cy="401.62" r="1.5"/><circle cx="205.54" cy="402.95" r="1.5"/><circle cx="206.09" cy="407.26" r="1.5"/><circle cx="207.59" cy="411.02" r="1.5"/><circle cx="208.21" cy="414.51" r="1.5"/><circle cx="209.08" cy="417.57" r="1.5"/><circle cx="210.58" cy="423.09" r="1.5"/><circle cx="211.32" cy="427.13" r="1.5"/><circle cx="212.26" cy="428.47" r="1.5"/><circle cx="213.5" cy="427.39" r="1.5"/><circle cx="214.15" cy="426.02" r="1.5"/><circle cx="215.14" cy="424.99" r="1.5"/><circle cx="216.16" cy="422.27" r="1.5"/><circle cx="217.08" cy="420.49" r="1.5"/><circle cx="218.21" cy="418.03" r="1.5"/><circle cx="219.35" cy="418.25" r="1.5"/><circle cx="220.25" cy="417.77" r="1.5"/><circle cx="221.3" cy="417.85" r="1.5"/><circle cx="222.31" cy="418.03" r="1.5"/><circle cx="223.26" cy="418.88" r="1.5"/><circle cx="224" cy="418.83" r="1.5"/><circle cx="225.1" cy="417.27" r="1.5"/><circle cx="226.44" cy="416.74" r="1.5"/><circle cx="227.2" cy="416.18" r="1.5"/><circle cx="228.33" cy="415.96" r="1.5"/><circle cx="229.06" cy="413.64" r="1.5"/><circle cx="230.15" cy="411.22" r="1.5"/><circle cx="231.46" cy="409.33" r="1.5"/><circle cx="232.34" cy="407.18" r="1.5"/><circle cx="233.55" cy="404.11" r="1.5"/><circle cx="234.37" cy="403.94" r="1.5"/><circle cx="235.31" cy="403.97" r="1.5"/><circle cx="236.27" cy="405.15" r="1.5"/><circle cx="237.29" cy="409.81" r="1.5"/><circle cx="238.42" cy="414" r="1.5"/><circle cx="239.57" cy="418.02" r="1.5"/><circle cx="240.34" cy="422.3" r="1.5"/><circle cx="241.5" cy="422.4" r="1.5"/><circle cx="242.07" cy="421.61" r="1.5"/><circle cx="243.04" cy="418.86" r="1.5"/><circle cx="244.04" cy="416.65" r="1.5"/><circle cx="245.47" cy="413.82" r="1.5"/><circle cx="246.09" cy="411.38" r="1.5"/><circle cx="247.4" cy="409.02" r="1.5"/><circle cx="248.53" cy="410.45" r="1.5"/><circle cx="249.13" cy="410.92" r="1.5"/><circle cx="250.24" cy="411.07" r="1.5"/><circle cx="251.59" cy="414.09" r="1.5"/><circle cx="252.1" cy="415.91" r="1.5"/><circle cx="253.31" cy="418.48" r="1.5"/><circle cx="254.12" cy="421.33" r="1.5"/><circle cx="255.43" cy="421.91" r="1.5"/><circle cx="256.33" cy="423.18" r="1.5"/><circle cx="257.01" cy="421.96" r="1.5"/><circle cx="258.37" cy="420.79" r="1.5"/><circle cx="259.04" cy="419.97" r="1.5"/><circle cx="260.47" cy="417.91" r="1.5"/><circle cx="261.06" cy="414.74" r="1.5"/><circle cx="262.02" cy="414.95" r="1.5"/><circle cx="263.16" cy="413.91" r="1.5"/><circle cx="264.25" cy="415.3" r="1.5"/><circle cx="265.49" cy="415.72" r="1.5"/><circle cx="266.09" cy="418.24" r="1.5"/><circle cx="267.34" cy="419.14" r="1.5"/><circle cx="268.05" cy="419.15" r="1.5"/><circle cx="269.41" cy="420.78" r="1.5"/><circle cx="270.04" cy="420.1" r="1.5"/><circle cx="271.38" cy="418.38" r="1.5"/><circle cx="272.05" cy="416.99" r="1.5"/><circle cx="273.04" cy="415.53" r="1.5"/><circle cx="274.27" cy="413.23" r="1.5"/><circle cx="275.33" cy="412.63" r="1.5"/><circle cx="276.16" cy="409.8" r="1.5"/><circle cx="277.32" cy="408.88" r="1.5"/><circle cx="278.07" cy="408.76" r="1.5"/><circle cx="279.03" cy="408.82" r="1.5"/><circle cx="280.19" cy="409.69" r="1.5"/><circle cx="281.46" cy="410.66" r="1.5"/><circle cx="282.3" cy="411.49" r="1.5"/><circle cx="283.21" cy="412.27" r="1.5"/><circle cx="284.15" cy="413.31" r="1.5"/><circle cx="285.44" cy="413.98" r="1.5"/><circle cx="286.11" cy="412.86" r="1.5"/><circle cx="287.56" cy="411.27" r="1.5"/><circle cx="288.49" cy="409.75" r="1.5"/><circle cx="289.3" cy="408.36" r="1.5"/><circle cx="290.24" cy="405.81" r="1.5"/><circle cx="291.41" cy="405.83" r="1.5"/><circle cx="292.21" cy="409.86" r="1.5"/><circle cx="293.42" cy="414.37" r="1.5"/><circle cx="294.24" cy="419.53" r="1.5"/><circle cx="295.03" cy="422.77" r="1.5"/><circle cx="296.04" cy="426.83" r="1.5"/><circle cx="297.15" cy="428.48" r="1.5"/><circle cx="298.05" cy="430.95" r="1.5"/><circle cx="299.52" cy="430.39" r="1.5"/><circle cx="300.17" cy="427.75" r="1.5"/><circle cx="301.18" cy="426.13" r="1.5"/><circle cx="302.09" cy="421.41" r="1.5"/><circle cx="303.16" cy="417.42" r="1.5"/><circle cx="304.58" cy="413.56" r="1.5"/><circle cx="305.15" cy="411.53" r="1.5"/><circle cx="306.19" cy="412.41" r="1.5"/><circle cx="307" cy="414.31" r="1.5"/><circle cx="308.28" cy="418.06" r="1.5"/><circle cx="309.12" cy="421.62" r="1.5"/><circle cx="310" cy="424.79" r="1.5"/><circle cx="311.05" cy="427.64" r="1.5"/><circle cx="312.03" cy="428.29" r="1.5"/><circle cx="313.18" cy="427.68" r="1.5"/><circle cx="314.35" cy="423.91" r="1.5"/><circle cx="315.45" cy="419.22" r="1.5"/><circle cx="316.43" cy="413.13" r="1.5"/><circle cx="317.23" cy="406.55" r="1.5"/><circle cx="318.59" cy="401.32" r="1.5"/><circle cx="319.43" cy="399.42" r="1.5"/><circle cx="320.03" cy="399.05" r="1.5"/><circle cx="321.54" cy="402.27" r="1.5"/><circle cx="322.44" cy="406.99" r="1.5"/><circle cx="323.08" cy="412.25" r="1.5"/><circle cx="324.3" cy="420.16" r="1.5"/><circle cx="325.48" cy="428.03" r="1.5"/><circle cx="326.35" cy="430.19" r="1.5"/></g>
</g>
<g clip-path="url(#ce2)">
<path d="M62.8,475.7L63.2,475.7L63.61,475.7L64.01,475.69L64.41,475.69L64.82,475.68L65.22,475.68L65.63,475.67L66.03,475.66L66.43,475.65L66.84,475.64L67.24,475.62L67.64,475.61L68.05,475.59L68.45,475.58L68.85,475.56L69.26,475.54L69.66,475.53L70.07,475.51L70.47,475.49L70.87,475.47L71.28,475.45L71.68,475.42L72.08,475.4L72.49,475.38L72.89,475.36L73.29,475.33L73.7,475.31L74.1,475.29L74.51,475.27L74.91,475.24L75.31,475.22L75.72,475.2L76.12,475.18L76.52,475.15L76.93,475.13L77.33,475.11L77.73,475.09L78.14,475.07L78.54,475.06L78.95,475.04L79.35,475.02L79.75,475.01L80.16,474.99L80.56,474.98L80.96,474.96L81.37,474.95L81.77,474.94L82.17,474.93L82.58,474.92L82.98,474.92L83.39,474.91L83.79,474.91L84.19,474.9L84.6,474.9L85,474.9L85.41,474.89L85.82,474.86L86.23,474.82L86.64,474.76L87.05,474.69L87.46,474.61L87.87,474.51L88.28,474.41L88.69,474.3L89.11,474.2L89.52,474.09L89.93,473.99L90.34,473.89L90.75,473.81L91.16,473.74L91.57,473.68L91.98,473.64L92.39,473.61L92.8,473.6L93.21,473.65L93.62,473.79L94.02,474.03L94.43,474.36L94.84,474.77L95.25,475.27L95.66,475.83L96.06,476.45L96.47,477.13L96.88,477.85L97.29,478.6L97.7,479.36L98.1,480.14L98.51,480.9L98.92,481.65L99.33,482.37L99.74,483.05L100.14,483.67L100.55,484.23L100.96,484.73L101.37,485.14L101.78,485.47L102.18,485.71L102.59,485.85L103,485.9L103.4,485.86L103.81,485.75L104.21,485.56L104.61,485.3L105.01,484.97L105.42,484.58L105.82,484.11L106.22,483.59L106.63,483.01L107.03,482.38L107.43,481.7L107.83,480.98L108.24,480.22L108.64,479.44L109.04,478.63L109.45,477.81L109.85,476.97L110.25,476.13L110.65,475.29L111.06,474.47L111.46,473.66L111.86,472.88L112.27,472.12L112.67,471.4L113.07,470.72L113.47,470.09L113.88,469.51L114.28,468.99L114.68,468.52L115.09,468.13L115.49,467.8L115.89,467.54L116.29,467.35L116.7,467.24L117.1,467.2L117.5,467.22L117.9,467.27L118.31,467.36L118.71,467.48L119.11,467.63L119.51,467.82L119.91,468.04L120.32,468.29L120.72,468.57L121.12,468.87L121.52,469.21L121.92,469.57L122.33,469.96L122.73,470.37L123.13,470.8L123.53,471.25L123.94,471.72L124.34,472.2L124.74,472.7L125.14,473.2L125.54,473.72L125.95,474.24L126.35,474.77L126.75,475.3L127.15,475.83L127.55,476.36L127.96,476.88L128.36,477.4L128.76,477.9L129.16,478.4L129.56,478.88L129.97,479.35L130.37,479.8L130.77,480.23L131.17,480.64L131.57,481.03L131.98,481.39L132.38,481.73L132.78,482.03L133.18,482.31L133.59,482.56L133.99,482.78L134.39,482.97L134.79,483.12L135.19,483.24L135.6,483.33L136,483.38L136.4,483.4L136.81,483.39L137.21,483.35L137.62,483.28L138.02,483.18L138.43,483.06L138.83,482.92L139.24,482.74L139.65,482.55L140.05,482.33L140.46,482.08L140.86,481.81L141.27,481.53L141.68,481.22L142.08,480.89L142.49,480.54L142.89,480.18L143.3,479.8L143.7,479.41L144.11,479.01L144.52,478.59L144.92,478.17L145.33,477.73L145.73,477.29L146.14,476.85L146.54,476.4L146.95,475.95L147.36,475.5L147.76,475.05L148.17,474.61L148.57,474.17L148.98,473.73L149.38,473.31L149.79,472.89L150.2,472.49L150.6,472.1L151.01,471.72L151.41,471.36L151.82,471.01L152.22,470.68L152.63,470.37L153.04,470.09L153.44,469.82L153.85,469.57L154.25,469.35L154.66,469.16L155.07,468.98L155.47,468.84L155.88,468.72L156.28,468.62L156.69,468.55L157.09,468.51L157.5,468.5L157.9,468.51L158.31,468.55L158.71,468.61L159.12,468.7L159.52,468.81L159.92,468.95L160.33,469.11L160.73,469.29L161.14,469.5L161.54,469.72L161.94,469.97L162.35,470.24L162.75,470.52L163.15,470.82L163.56,471.14L163.96,471.48L164.37,471.82L164.77,472.19L165.17,472.56L165.58,472.94L165.98,473.33L166.39,473.73L166.79,474.13L167.19,474.54L167.6,474.95L168,475.35L168.41,475.76L168.81,476.17L169.21,476.57L169.62,476.97L170.02,477.36L170.43,477.74L170.83,478.11L171.23,478.48L171.64,478.82L172.04,479.16L172.45,479.48L172.85,479.78L173.25,480.06L173.66,480.33L174.06,480.58L174.46,480.8L174.87,481.01L175.27,481.19L175.68,481.35L176.08,481.49L176.48,481.6L176.89,481.69L177.29,481.75L177.7,481.79L178.1,481.8L178.5,481.79L178.9,481.76L179.3,481.71L179.7,481.64L180.1,481.56L180.5,481.45L180.9,481.32L181.3,481.18L181.7,481.02L182.1,480.84L182.5,480.65L182.9,480.44L183.3,480.22L183.7,479.98L184.1,479.73L184.5,479.46L184.9,479.19L185.3,478.9L185.7,478.61L186.1,478.3L186.5,477.99L186.9,477.68L187.3,477.35L187.7,477.03L188.1,476.7L188.5,476.37L188.9,476.03L189.3,475.7L189.7,475.37L190.1,475.05L190.5,474.72L190.9,474.41L191.3,474.1L191.7,473.79L192.1,473.5L192.5,473.21L192.9,472.94L193.3,472.67L193.7,472.42L194.1,472.18L194.5,471.96L194.9,471.75L195.3,471.56L195.7,471.38L196.1,471.22L196.5,471.08L196.9,470.95L197.3,470.84L197.7,470.76L198.1,470.69L198.5,470.64L198.9,470.61L199.3,470.6L199.71,470.61L200.11,470.64L200.52,470.68L200.92,470.75L201.33,470.83L201.73,470.93L202.14,471.05L202.55,471.18L202.95,471.34L203.36,471.5L203.76,471.69L204.17,471.88L204.58,472.09L204.98,472.32L205.39,472.55L205.79,472.8L206.2,473.06L206.6,473.33L207.01,473.61L207.42,473.89L207.82,474.18L208.23,474.48L208.63,474.78L209.04,475.09L209.44,475.39L209.85,475.7L210.26,476.01L210.66,476.31L211.07,476.62L211.47,476.92L211.88,477.22L212.28,477.51L212.69,477.79L213.1,478.07L213.5,478.34L213.91,478.6L214.31,478.85L214.72,479.08L215.12,479.31L215.53,479.52L215.94,479.71L216.34,479.9L216.75,480.06L217.15,480.22L217.56,480.35L217.97,480.47L218.37,480.57L218.78,480.65L219.18,480.72L219.59,480.76L219.99,480.79L220.4,480.8L220.81,480.79L221.22,480.76L221.62,480.71L222.03,480.64L222.44,480.56L222.85,480.45L223.26,480.33L223.67,480.18L224.08,480.02L224.48,479.85L224.89,479.66L225.3,479.45L225.71,479.23L226.12,479L226.53,478.76L226.93,478.5L227.34,478.23L227.75,477.96L228.16,477.68L228.57,477.39L228.97,477.1L229.38,476.8L229.79,476.5L230.2,476.2L230.61,475.9L231.02,475.6L231.43,475.3L231.83,475.01L232.24,474.72L232.65,474.44L233.06,474.17L233.47,473.9L233.88,473.64L234.28,473.4L234.69,473.17L235.1,472.95L235.51,472.74L235.92,472.55L236.32,472.38L236.73,472.22L237.14,472.07L237.55,471.95L237.96,471.84L238.37,471.76L238.78,471.69L239.18,471.64L239.59,471.61L240,471.6L240.4,471.61L240.8,471.63L241.21,471.67L241.61,471.73L242.01,471.8L242.41,471.88L242.81,471.98L243.22,472.09L243.62,472.22L244.02,472.36L244.42,472.52L244.82,472.68L245.23,472.86L245.63,473.05L246.03,473.25L246.43,473.46L246.83,473.67L247.24,473.9L247.64,474.13L248.04,474.36L248.44,474.61L248.84,474.85L249.25,475.1L249.65,475.35L250.05,475.6L250.45,475.85L250.85,476.1L251.26,476.35L251.66,476.59L252.06,476.84L252.46,477.07L252.86,477.3L253.27,477.53L253.67,477.74L254.07,477.95L254.47,478.15L254.87,478.34L255.28,478.52L255.68,478.68L256.08,478.84L256.48,478.98L256.88,479.11L257.29,479.22L257.69,479.32L258.09,479.4L258.49,479.47L258.89,479.53L259.3,479.57L259.7,479.59L260.1,479.6L260.51,479.59L260.91,479.58L261.32,479.55L261.72,479.52L262.13,479.47L262.53,479.41L262.94,479.35L263.34,479.27L263.75,479.18L264.16,479.09L264.56,478.99L264.97,478.87L265.37,478.75L265.78,478.63L266.18,478.49L266.59,478.35L266.99,478.2L267.4,478.05L267.81,477.89L268.21,477.73L268.62,477.56L269.02,477.39L269.43,477.21L269.83,477.04L270.24,476.86L270.64,476.68L271.05,476.5L271.46,476.32L271.86,476.14L272.27,475.96L272.67,475.79L273.08,475.61L273.48,475.44L273.89,475.27L274.29,475.11L274.7,474.95L275.11,474.8L275.51,474.65L275.92,474.51L276.32,474.37L276.73,474.25L277.13,474.13L277.54,474.01L277.94,473.91L278.35,473.82L278.76,473.73L279.16,473.65L279.57,473.59L279.97,473.53L280.38,473.48L280.78,473.45L281.19,473.42L281.59,473.41L282,473.4L282.4,473.41L282.8,473.42L283.2,473.45L283.6,473.49L284,473.54L284.4,473.6L284.8,473.67L285.2,473.75L285.6,473.84L286,473.94L286.4,474.04L286.8,474.16L287.2,474.28L287.6,474.42L288,474.56L288.4,474.7L288.8,474.85L289.2,475.01L289.6,475.17L290,475.33L290.4,475.5L290.8,475.67L291.2,475.84L291.6,476.01L292,476.19L292.4,476.36L292.8,476.53L293.2,476.7L293.6,476.87L294,477.03L294.4,477.19L294.8,477.35L295.2,477.5L295.6,477.64L296,477.78L296.4,477.92L296.8,478.04L297.2,478.16L297.6,478.26L298,478.36L298.4,478.45L298.8,478.53L299.2,478.6L299.6,478.66L300,478.71L300.4,478.75L300.8,478.78L301.2,478.79L301.6,478.8L302.01,478.79L302.42,478.78L302.82,478.75L303.23,478.7L303.64,478.65L304.05,478.58L304.46,478.5L304.86,478.42L305.27,478.32L305.68,478.21L306.09,478.09L306.5,477.96L306.9,477.82L307.31,477.68L307.72,477.52L308.13,477.36L308.54,477.19L308.94,477.02L309.35,476.84L309.76,476.66L310.17,476.47L310.58,476.28L310.98,476.09L311.39,475.89L311.8,475.7L312.21,475.51L312.62,475.31L313.02,475.12L313.43,474.93L313.84,474.74L314.25,474.56L314.66,474.38L315.06,474.21L315.47,474.04L315.88,473.88L316.29,473.72L316.7,473.58L317.1,473.44L317.51,473.31L317.92,473.19L318.33,473.08L318.74,472.98L319.14,472.9L319.55,472.82L319.96,472.75L320.37,472.7L320.78,472.65L321.18,472.62L321.59,472.61L322,472.6L322.44,472.62L322.88,472.69L323.32,472.79L323.76,472.91L324.2,473.05L324.64,473.19L325.08,473.31L325.52,473.41L325.96,473.48L326.4,473.5" fill="none" stroke="#ff3aa0" stroke-width="1.3" stroke-linejoin="round" />
<path d="M62.8,507.5L63.2,507.5L63.6,507.5L64,507.5L64.4,507.51L64.8,507.51L65.2,507.51L65.6,507.52L66,507.52L66.4,507.53L66.8,507.54L67.2,507.54L67.6,507.55L68,507.56L68.4,507.57L68.8,507.58L69.2,507.59L69.6,507.6L70,507.61L70.4,507.62L70.8,507.63L71.2,507.65L71.6,507.66L72,507.67L72.4,507.68L72.8,507.7L73.2,507.71L73.6,507.72L74,507.74L74.4,507.75L74.8,507.76L75.2,507.78L75.6,507.79L76,507.8L76.4,507.82L76.8,507.83L77.2,507.84L77.6,507.85L78,507.87L78.4,507.88L78.8,507.89L79.2,507.9L79.6,507.91L80,507.92L80.4,507.93L80.8,507.94L81.2,507.95L81.6,507.96L82,507.96L82.4,507.97L82.8,507.98L83.2,507.98L83.6,507.99L84,507.99L84.4,507.99L84.8,508L85.2,508L85.6,508L86,508L86.4,508.01L86.81,508.05L87.21,508.12L87.62,508.2L88.02,508.31L88.43,508.44L88.83,508.59L89.23,508.76L89.64,508.93L90.04,509.12L90.45,509.3L90.85,509.5L91.26,509.68L91.66,509.87L92.07,510.04L92.47,510.21L92.87,510.36L93.28,510.49L93.68,510.6L94.09,510.68L94.49,510.75L94.9,510.79L95.3,510.8L95.7,510.7L96.1,510.41L96.5,509.92L96.9,509.25L97.3,508.41L97.7,507.42L98.1,506.29L98.5,505.05L98.9,503.72L99.3,502.32L99.7,500.88L100.1,499.42L100.5,497.98L100.9,496.58L101.3,495.25L101.7,494.01L102.1,492.88L102.5,491.89L102.9,491.05L103.3,490.38L103.7,489.89L104.1,489.6L104.5,489.5L104.91,489.79L105.32,490.67L105.73,492.1L106.14,494.04L106.55,496.45L106.96,499.26L107.37,502.39L107.78,505.76L108.19,509.27L108.61,512.83L109.02,516.34L109.43,519.71L109.84,522.84L110.25,525.65L110.66,528.06L111.07,530L111.48,531.43L111.89,532.31L112.3,532.6L112.72,532.14L113.14,530.8L113.56,528.61L113.97,525.66L114.39,522.07L114.81,517.97L115.23,513.52L115.65,508.9L116.07,504.28L116.49,499.83L116.91,495.73L117.33,492.14L117.74,489.19L118.16,487L118.58,485.66L119,485.2L119.42,485.51L119.84,486.44L120.27,487.95L120.69,490L121.11,492.52L121.53,495.45L121.96,498.69L122.38,502.14L122.8,505.7L123.22,509.26L123.64,512.71L124.07,515.95L124.49,518.88L124.91,521.4L125.33,523.45L125.76,524.96L126.18,525.89L126.6,526.2L127,525.94L127.4,525.16L127.8,523.88L128.2,522.15L128.6,520.02L129,517.55L129.4,514.82L129.8,511.9L130.2,508.9L130.6,505.9L131,502.98L131.4,500.25L131.8,497.78L132.2,495.65L132.6,493.92L133,492.64L133.4,491.86L133.8,491.6L134.22,491.86L134.65,492.64L135.07,493.91L135.49,495.62L135.92,497.72L136.34,500.14L136.76,502.79L137.19,505.58L137.61,508.42L138.04,511.21L138.46,513.86L138.88,516.28L139.31,518.38L139.73,520.09L140.15,521.36L140.58,522.14L141,522.4L141.41,522.15L141.82,521.43L142.24,520.24L142.65,518.64L143.06,516.68L143.47,514.42L143.88,511.94L144.29,509.33L144.71,506.67L145.12,504.06L145.53,501.58L145.94,499.32L146.35,497.36L146.76,495.76L147.18,494.57L147.59,493.85L148,493.6L148.41,493.78L148.81,494.32L149.22,495.21L149.62,496.41L150.03,497.91L150.43,499.65L150.84,501.59L151.24,503.67L151.65,505.85L152.05,508.05L152.46,510.23L152.86,512.31L153.27,514.25L153.67,515.99L154.08,517.49L154.48,518.69L154.89,519.58L155.29,520.12L155.7,520.3L156.11,520.13L156.51,519.61L156.92,518.76L157.32,517.6L157.73,516.17L158.13,514.5L158.54,512.64L158.94,510.64L159.35,508.56L159.75,506.44L160.16,504.36L160.56,502.36L160.97,500.5L161.37,498.83L161.78,497.4L162.18,496.24L162.59,495.39L162.99,494.87L163.4,494.7L163.81,494.91L164.22,495.55L164.64,496.58L165.05,497.98L165.46,499.69L165.87,501.66L166.28,503.82L166.69,506.09L167.11,508.41L167.52,510.68L167.93,512.84L168.34,514.81L168.75,516.52L169.16,517.92L169.58,518.95L169.99,519.59L170.4,519.8L170.81,519.59L171.21,518.96L171.62,517.94L172.02,516.55L172.43,514.85L172.84,512.9L173.24,510.76L173.65,508.5L174.05,506.2L174.46,503.94L174.86,501.8L175.27,499.85L175.68,498.15L176.08,496.76L176.49,495.74L176.89,495.11L177.3,494.9L177.72,495.1L178.15,495.7L178.57,496.67L178.99,497.98L179.42,499.59L179.84,501.44L180.26,503.47L180.69,505.61L181.11,507.79L181.54,509.93L181.96,511.96L182.38,513.81L182.81,515.42L183.23,516.73L183.65,517.7L184.08,518.3L184.5,518.5L184.92,518.31L185.34,517.75L185.75,516.83L186.17,515.59L186.59,514.07L187.01,512.32L187.42,510.4L187.84,508.38L188.26,506.32L188.68,504.3L189.09,502.38L189.51,500.63L189.93,499.11L190.35,497.87L190.76,496.95L191.18,496.39L191.6,496.2L192.01,496.37L192.42,496.89L192.84,497.74L193.25,498.88L193.66,500.27L194.07,501.88L194.48,503.64L194.89,505.5L195.31,507.4L195.72,509.26L196.13,511.02L196.54,512.63L196.95,514.02L197.36,515.16L197.78,516.01L198.19,516.53L198.6,516.7L199.01,516.57L199.41,516.19L199.82,515.57L200.22,514.73L200.63,513.68L201.03,512.46L201.44,511.11L201.84,509.65L202.25,508.12L202.65,506.58L203.06,505.05L203.46,503.59L203.87,502.24L204.27,501.02L204.68,499.97L205.08,499.13L205.49,498.51L205.89,498.13L206.3,498L206.71,498.15L207.11,498.61L207.52,499.35L207.92,500.35L208.33,501.58L208.74,502.99L209.14,504.54L209.55,506.17L209.95,507.83L210.36,509.46L210.76,511.01L211.17,512.42L211.58,513.65L211.98,514.65L212.39,515.39L212.79,515.85L213.2,516L213.6,515.87L214,515.48L214.4,514.85L214.8,513.99L215.2,512.93L215.6,511.7L216,510.34L216.4,508.89L216.8,507.4L217.2,505.91L217.6,504.46L218,503.1L218.4,501.87L218.8,500.81L219.2,499.95L219.6,499.32L220,498.93L220.4,498.8L220.82,498.94L221.24,499.35L221.65,500.03L222.07,500.94L222.49,502.06L222.91,503.34L223.32,504.76L223.74,506.24L224.16,507.76L224.58,509.24L224.99,510.66L225.41,511.94L225.83,513.06L226.25,513.97L226.66,514.65L227.08,515.06L227.5,515.2L227.91,515.07L228.32,514.68L228.74,514.05L229.15,513.19L229.56,512.14L229.97,510.93L230.38,509.61L230.79,508.21L231.21,506.79L231.62,505.39L232.03,504.07L232.44,502.86L232.85,501.81L233.26,500.95L233.68,500.32L234.09,499.93L234.5,499.8L234.92,499.92L235.33,500.26L235.75,500.82L236.17,501.58L236.58,502.51L237,503.6L237.42,504.8L237.83,506.08L238.25,507.4L238.67,508.72L239.08,510L239.5,511.2L239.92,512.29L240.33,513.22L240.75,513.98L241.17,514.54L241.58,514.88L242,515L242.41,514.87L242.82,514.5L243.24,513.89L243.65,513.07L244.06,512.06L244.47,510.9L244.88,509.63L245.29,508.28L245.71,506.92L246.12,505.57L246.53,504.3L246.94,503.14L247.35,502.13L247.76,501.31L248.18,500.7L248.59,500.33L249,500.2L249.41,500.33L249.82,500.7L250.24,501.31L250.65,502.13L251.06,503.14L251.47,504.3L251.88,505.57L252.29,506.92L252.71,508.28L253.12,509.63L253.53,510.9L253.94,512.06L254.35,513.07L254.76,513.89L255.18,514.5L255.59,514.87L256,515L256.41,514.87L256.82,514.5L257.24,513.89L257.65,513.07L258.06,512.06L258.47,510.9L258.88,509.63L259.29,508.28L259.71,506.92L260.12,505.57L260.53,504.3L260.94,503.14L261.35,502.13L261.76,501.31L262.18,500.7L262.59,500.33L263,500.2L263.41,500.33L263.82,500.7L264.24,501.31L264.65,502.13L265.06,503.14L265.47,504.3L265.88,505.57L266.29,506.92L266.71,508.28L267.12,509.63L267.53,510.9L267.94,512.06L268.35,513.07L268.76,513.89L269.18,514.5L269.59,514.87L270,515L270.42,514.89L270.83,514.55L271.25,514.01L271.67,513.27L272.08,512.36L272.5,511.3L272.92,510.13L273.33,508.88L273.75,507.6L274.17,506.32L274.58,505.07L275,503.9L275.42,502.84L275.83,501.93L276.25,501.19L276.67,500.65L277.08,500.31L277.5,500.2L277.91,500.33L278.32,500.7L278.74,501.31L279.15,502.13L279.56,503.14L279.97,504.3L280.38,505.57L280.79,506.92L281.21,508.28L281.62,509.63L282.03,510.9L282.44,512.06L282.85,513.07L283.26,513.89L283.68,514.5L284.09,514.87L284.5,515L284.91,514.87L285.31,514.5L285.72,513.89L286.12,513.07L286.53,512.06L286.94,510.9L287.34,509.63L287.75,508.28L288.15,506.92L288.56,505.57L288.96,504.3L289.37,503.14L289.78,502.13L290.18,501.31L290.59,500.7L290.99,500.33L291.4,500.2L291.82,500.33L292.24,500.7L292.65,501.31L293.07,502.13L293.49,503.14L293.91,504.3L294.32,505.57L294.74,506.92L295.16,508.28L295.58,509.63L295.99,510.9L296.41,512.06L296.83,513.07L297.25,513.89L297.66,514.5L298.08,514.87L298.5,515L298.92,514.87L299.34,514.5L299.75,513.89L300.17,513.07L300.59,512.06L301.01,510.9L301.42,509.63L301.84,508.28L302.26,506.92L302.68,505.57L303.09,504.3L303.51,503.14L303.93,502.13L304.35,501.31L304.76,500.7L305.18,500.33L305.6,500.2L306.02,500.33L306.44,500.7L306.85,501.31L307.27,502.13L307.69,503.14L308.11,504.3L308.52,505.57L308.94,506.92L309.36,508.28L309.78,509.63L310.19,510.9L310.61,512.06L311.03,513.07L311.45,513.89L311.86,514.5L312.28,514.87L312.7,515L313.12,514.87L313.54,514.5L313.95,513.89L314.37,513.07L314.79,512.06L315.21,510.9L315.62,509.63L316.04,508.28L316.46,506.92L316.88,505.57L317.29,504.3L317.71,503.14L318.13,502.13L318.55,501.31L318.96,500.7L319.38,500.33L319.8,500.2L320.22,500.34L320.64,500.74L321.06,501.4L321.48,502.29L321.89,503.38L322.31,504.61L322.73,505.96L323.15,507.35L323.57,508.74L323.99,510.09L324.41,511.32L324.82,512.41L325.24,513.3L325.66,513.96L326.08,514.36L326.5,514.5" fill="none" stroke="#ff8f24" stroke-width="1.3" stroke-linejoin="round" />
<path d="M62.8,539.8L63.2,539.8L63.6,539.8L64.01,539.8L64.41,539.8L64.81,539.79L65.22,539.79L65.62,539.79L66.02,539.79L66.42,539.78L66.83,539.78L67.23,539.77L67.63,539.77L68.03,539.76L68.44,539.76L68.84,539.75L69.24,539.74L69.64,539.74L70.05,539.73L70.45,539.72L70.85,539.71L71.25,539.7L71.66,539.69L72.06,539.69L72.46,539.68L72.86,539.67L73.27,539.66L73.67,539.65L74.07,539.64L74.47,539.63L74.88,539.61L75.28,539.6L75.68,539.59L76.08,539.58L76.48,539.57L76.89,539.56L77.29,539.55L77.69,539.54L78.09,539.52L78.5,539.51L78.9,539.5L79.3,539.49L79.7,539.48L80.11,539.46L80.51,539.45L80.91,539.44L81.31,539.43L81.72,539.42L82.12,539.41L82.52,539.4L82.92,539.39L83.33,539.37L83.73,539.36L84.13,539.35L84.53,539.34L84.94,539.33L85.34,539.32L85.74,539.31L86.14,539.31L86.55,539.3L86.95,539.29L87.35,539.28L87.75,539.27L88.16,539.26L88.56,539.26L88.96,539.25L89.36,539.24L89.77,539.24L90.17,539.23L90.57,539.23L90.97,539.22L91.38,539.22L91.78,539.21L92.18,539.21L92.59,539.21L92.99,539.21L93.39,539.2L93.79,539.2L94.19,539.2L94.6,539.2L95,539.2L95.42,539.22L95.85,539.27L96.27,539.36L96.69,539.48L97.12,539.62L97.54,539.77L97.96,539.93L98.38,540.08L98.81,540.22L99.23,540.34L99.65,540.43L100.08,540.48L100.5,540.5L100.92,540.42L101.34,540.2L101.77,539.85L102.19,539.43L102.61,538.97L103.03,538.55L103.46,538.2L103.88,537.98L104.3,537.9L104.72,537.84L105.14,537.66L105.55,537.38L105.97,537.02L106.39,536.61L106.81,536.19L107.23,535.78L107.65,535.42L108.06,535.14L108.48,534.96L108.9,534.9L109.31,535.02L109.73,535.37L110.14,535.94L110.56,536.69L110.97,537.59L111.39,538.59L111.8,539.65L112.21,540.71L112.63,541.71L113.04,542.61L113.46,543.36L113.87,543.93L114.29,544.28L114.7,544.4L115.11,544.28L115.53,543.94L115.94,543.4L116.36,542.67L116.77,541.8L117.19,540.82L117.6,539.8L118.01,538.78L118.43,537.8L118.84,536.93L119.26,536.2L119.67,535.66L120.09,535.32L120.5,535.2L120.91,535.32L121.33,535.66L121.74,536.2L122.16,536.93L122.57,537.8L122.99,538.78L123.4,539.8L123.81,540.82L124.23,541.8L124.64,542.67L125.06,543.4L125.47,543.94L125.89,544.28L126.3,544.4L126.71,544.28L127.13,543.94L127.54,543.4L127.96,542.67L128.37,541.8L128.79,540.82L129.2,539.8L129.61,538.78L130.03,537.8L130.44,536.93L130.86,536.2L131.27,535.66L131.69,535.32L132.1,535.2L132.51,535.32L132.93,535.66L133.34,536.2L133.76,536.93L134.17,537.8L134.59,538.78L135,539.8L135.41,540.82L135.83,541.8L136.24,542.67L136.66,543.4L137.07,543.94L137.49,544.28L137.9,544.4L138.31,544.28L138.73,543.94L139.14,543.4L139.56,542.67L139.97,541.8L140.39,540.82L140.8,539.8L141.21,538.78L141.63,537.8L142.04,536.93L142.46,536.2L142.87,535.66L143.29,535.32L143.7,535.2L144.11,535.32L144.53,535.66L144.94,536.2L145.36,536.93L145.77,537.8L146.19,538.78L146.6,539.8L147.01,540.82L147.43,541.8L147.84,542.67L148.26,543.4L148.67,543.94L149.09,544.28L149.5,544.4L149.91,544.28L150.33,543.94L150.74,543.4L151.16,542.67L151.57,541.8L151.99,540.82L152.4,539.8L152.81,538.78L153.23,537.8L153.64,536.93L154.06,536.2L154.47,535.66L154.89,535.32L155.3,535.2L155.71,535.32L156.13,535.66L156.54,536.2L156.96,536.93L157.37,537.8L157.79,538.78L158.2,539.8L158.61,540.82L159.03,541.8L159.44,542.67L159.86,543.4L160.27,543.94L160.69,544.28L161.1,544.4L161.51,544.28L161.93,543.94L162.34,543.4L162.76,542.67L163.17,541.8L163.59,540.82L164,539.8L164.41,538.78L164.83,537.8L165.24,536.93L165.66,536.2L166.07,535.66L166.49,535.32L166.9,535.2L167.31,535.32L167.73,535.66L168.14,536.2L168.56,536.93L168.97,537.8L169.39,538.78L169.8,539.8L170.21,540.82L170.63,541.8L171.04,542.67L171.46,543.4L171.87,543.94L172.29,544.28L172.7,544.4L173.11,544.28L173.53,543.94L173.94,543.4L174.36,542.67L174.77,541.8L175.19,540.82L175.6,539.8L176.01,538.78L176.43,537.8L176.84,536.93L177.26,536.2L177.67,535.66L178.09,535.32L178.5,535.2L178.91,535.32L179.33,535.66L179.74,536.2L180.16,536.93L180.57,537.8L180.99,538.78L181.4,539.8L181.81,540.82L182.23,541.8L182.64,542.67L183.06,543.4L183.47,543.94L183.89,544.28L184.3,544.4L184.71,544.28L185.13,543.94L185.54,543.4L185.96,542.67L186.37,541.8L186.79,540.82L187.2,539.8L187.61,538.78L188.03,537.8L188.44,536.93L188.86,536.2L189.27,535.66L189.69,535.32L190.1,535.2L190.51,535.32L190.93,535.66L191.34,536.2L191.76,536.93L192.17,537.8L192.59,538.78L193,539.8L193.41,540.82L193.83,541.8L194.24,542.67L194.66,543.4L195.07,543.94L195.49,544.28L195.9,544.4L196.31,544.28L196.73,543.94L197.14,543.4L197.56,542.67L197.97,541.8L198.39,540.82L198.8,539.8L199.21,538.78L199.63,537.8L200.04,536.93L200.46,536.2L200.87,535.66L201.29,535.32L201.7,535.2L202.11,535.32L202.53,535.66L202.94,536.2L203.36,536.93L203.77,537.8L204.19,538.78L204.6,539.8L205.01,540.82L205.43,541.8L205.84,542.67L206.26,543.4L206.67,543.94L207.09,544.28L207.5,544.4L207.91,544.28L208.33,543.94L208.74,543.4L209.16,542.67L209.57,541.8L209.99,540.82L210.4,539.8L210.81,538.78L211.23,537.8L211.64,536.93L212.06,536.2L212.47,535.66L212.89,535.32L213.3,535.2L213.71,535.32L214.13,535.66L214.54,536.2L214.96,536.93L215.37,537.8L215.79,538.78L216.2,539.8L216.61,540.82L217.03,541.8L217.44,542.67L217.86,543.4L218.27,543.94L218.69,544.28L219.1,544.4L219.51,544.28L219.93,543.94L220.34,543.4L220.76,542.67L221.17,541.8L221.59,540.82L222,539.8L222.41,538.78L222.83,537.8L223.24,536.93L223.66,536.2L224.07,535.66L224.49,535.32L224.9,535.2L225.31,535.32L225.73,535.66L226.14,536.2L226.56,536.93L226.97,537.8L227.39,538.78L227.8,539.8L228.21,540.82L228.63,541.8L229.04,542.67L229.46,543.4L229.87,543.94L230.29,544.28L230.7,544.4L231.11,544.28L231.53,543.94L231.94,543.4L232.36,542.67L232.77,541.8L233.19,540.82L233.6,539.8L234.01,538.78L234.43,537.8L234.84,536.93L235.26,536.2L235.67,535.66L236.09,535.32L236.5,535.2L236.91,535.32L237.33,535.66L237.74,536.2L238.16,536.93L238.57,537.8L238.99,538.78L239.4,539.8L239.81,540.82L240.23,541.8L240.64,542.67L241.06,543.4L241.47,543.94L241.89,544.28L242.3,544.4L242.71,544.28L243.13,543.94L243.54,543.4L243.96,542.67L244.37,541.8L244.79,540.82L245.2,539.8L245.61,538.78L246.03,537.8L246.44,536.93L246.86,536.2L247.27,535.66L247.69,535.32L248.1,535.2L248.51,535.32L248.93,535.66L249.34,536.2L249.76,536.93L250.17,537.8L250.59,538.78L251,539.8L251.41,540.82L251.83,541.8L252.24,542.67L252.66,543.4L253.07,543.94L253.49,544.28L253.9,544.4L254.31,544.28L254.73,543.94L255.14,543.4L255.56,542.67L255.97,541.8L256.39,540.82L256.8,539.8L257.21,538.78L257.63,537.8L258.04,536.93L258.46,536.2L258.87,535.66L259.29,535.32L259.7,535.2L260.11,535.32L260.53,535.66L260.94,536.2L261.36,536.93L261.77,537.8L262.19,538.78L262.6,539.8L263.01,540.82L263.43,541.8L263.84,542.67L264.26,543.4L264.67,543.94L265.09,544.28L265.5,544.4L265.91,544.28L266.33,543.94L266.74,543.4L267.16,542.67L267.57,541.8L267.99,540.82L268.4,539.8L268.81,538.78L269.23,537.8L269.64,536.93L270.06,536.2L270.47,535.66L270.89,535.32L271.3,535.2L271.71,535.32L272.13,535.66L272.54,536.2L272.96,536.93L273.37,537.8L273.79,538.78L274.2,539.8L274.61,540.82L275.03,541.8L275.44,542.67L275.86,543.4L276.27,543.94L276.69,544.28L277.1,544.4L277.51,544.28L277.93,543.94L278.34,543.4L278.76,542.67L279.17,541.8L279.59,540.82L280,539.8L280.41,538.78L280.83,537.8L281.24,536.93L281.66,536.2L282.07,535.66L282.49,535.32L282.9,535.2L283.31,535.32L283.73,535.66L284.14,536.2L284.56,536.93L284.97,537.8L285.39,538.78L285.8,539.8L286.21,540.82L286.63,541.8L287.04,542.67L287.46,543.4L287.87,543.94L288.29,544.28L288.7,544.4L289.11,544.28L289.53,543.94L289.94,543.4L290.36,542.67L290.77,541.8L291.19,540.82L291.6,539.8L292.01,538.78L292.43,537.8L292.84,536.93L293.26,536.2L293.67,535.66L294.09,535.32L294.5,535.2L294.91,535.32L295.33,535.66L295.74,536.2L296.16,536.93L296.57,537.8L296.99,538.78L297.4,539.8L297.81,540.82L298.23,541.8L298.64,542.67L299.06,543.4L299.47,543.94L299.89,544.28L300.3,544.4L300.71,544.28L301.13,543.94L301.54,543.4L301.96,542.67L302.37,541.8L302.79,540.82L303.2,539.8L303.61,538.78L304.03,537.8L304.44,536.93L304.86,536.2L305.27,535.66L305.69,535.32L306.1,535.2L306.51,535.32L306.93,535.66L307.34,536.2L307.76,536.93L308.17,537.8L308.59,538.78L309,539.8L309.41,540.82L309.83,541.8L310.24,542.67L310.66,543.4L311.07,543.94L311.49,544.28L311.9,544.4L312.31,544.28L312.73,543.94L313.14,543.4L313.56,542.67L313.97,541.8L314.39,540.82L314.8,539.8L315.21,538.78L315.63,537.8L316.04,536.93L316.46,536.2L316.87,535.66L317.29,535.32L317.7,535.2L318.11,535.32L318.53,535.66L318.94,536.2L319.36,536.93L319.77,537.8L320.19,538.78L320.6,539.8L321.01,540.82L321.43,541.8L321.84,542.67L322.26,543.4L322.67,543.94L323.09,544.28L323.5,544.4L323.91,544.28L324.33,543.94L324.74,543.4L325.16,542.67L325.57,541.8L325.99,540.82L326.4,539.8L326.81,538.78L327.23,537.8L327.64,536.93L328.06,536.2L328.47,535.66L328.89,535.32L329.3,535.2" fill="none" stroke="#2bec2b" stroke-width="1.35" stroke-linejoin="round" />
</g>
<text x="262.6" y="469.6" font-size="11.9">12.3</text>
<text x="289.3" y="469.6" font-size="11.9">cm</text>
<text x="306.2" y="465.0" font-size="8.4">&#8722;1</text>
<text x="262.6" y="495.1" font-size="11.9">35.4</text>
<text x="289.3" y="495.1" font-size="11.9">cm</text>
<text x="306.2" y="490.5" font-size="8.4">&#8722;1</text>
<text x="262.6" y="532.1" font-size="11.9">42.9</text>
<text x="289.3" y="532.1" font-size="11.9">cm</text>
<text x="306.2" y="527.5" font-size="8.4">&#8722;1</text>
<text x="312.3" y="392.8" font-size="12" text-anchor="end"><tspan font-style="italic">E</tspan><tspan font-size="8.5" dy="2.7">THz</tspan><tspan dy="-2.7" font-style="italic" style="stroke-width:0.35px"> // </tspan><tspan class="serif" font-style="italic">a</tspan></text>
<g clip-path="url(#cf1)">
<path d="M62.8,616.7C63.52,616.9 65.52,617.9 67.1,617.9C68.68,617.9 70.3,617.33 72.3,616.7C74.3,616.07 77.12,614.95 79.1,614.1C81.08,613.25 82.63,613.17 84.2,611.6C85.77,610.03 87.3,606.62 88.5,604.7C89.7,602.78 90.63,600.38 91.4,600.1C92.17,599.82 92.45,600.67 93.1,603C93.75,605.33 94.65,609.12 95.3,614.1C95.95,619.08 96.42,626.07 97,632.9C97.58,639.73 98.32,649.12 98.8,655.1C99.28,661.08 99.48,667.65 99.9,668.8C100.32,669.95 100.78,667.98 101.3,662C101.82,656.02 102.43,642.3 103,632.9C103.57,623.5 104.18,610.95 104.7,605.6C105.22,600.25 105.58,599.95 106.1,600.8C106.62,601.65 107.17,605.07 107.8,610.7C108.43,616.33 109.27,626.33 109.9,634.6C110.53,642.87 111.03,658.02 111.6,660.3C112.17,662.58 112.73,655.43 113.3,648.3C113.87,641.17 114.43,627.18 115,617.5C115.57,607.82 116.07,597.32 116.7,590.2C117.33,583.08 118.23,578.08 118.8,574.8C119.37,571.52 119.52,569.93 120.1,570.5C120.68,571.07 121.52,574.92 122.3,578.2C123.08,581.48 123.95,586.07 124.8,590.2C125.65,594.33 126.53,599.02 127.4,603C128.27,606.98 129.23,611.82 130,614.1C130.77,616.38 131.3,617.55 132,616.7C132.7,615.85 133.45,610.43 134.2,609C134.95,607.57 135.83,607.25 136.5,608.1C137.17,608.95 137.58,610.82 138.2,614.1C138.82,617.38 139.52,623.23 140.2,627.8C140.88,632.37 141.67,638.93 142.3,641.5C142.93,644.07 143.35,643.48 144,643.2C144.65,642.92 145.4,641.52 146.2,639.8C147,638.08 147.95,635.47 148.8,632.9C149.65,630.33 150.45,626.82 151.3,624.4C152.15,621.98 153.13,619.83 153.9,618.4C154.67,616.97 155.18,615.8 155.9,615.8C156.62,615.8 157.45,618.68 158.2,618.4C158.95,618.12 159.63,615.95 160.4,614.1C161.17,612.25 161.95,609.72 162.8,607.3C163.65,604.88 164.7,601.32 165.5,599.6C166.3,597.88 166.83,596.43 167.6,597C168.37,597.57 169.2,601.43 170.1,603C171,604.57 172.13,605.12 173,606.4C173.87,607.68 174.55,609.52 175.3,610.7C176.05,611.88 176.78,612.78 177.5,613.5C178.22,614.22 178.85,614.67 179.6,615C180.35,615.33 181.22,614.37 182,615.5C182.78,616.63 183.5,619.18 184.3,621.8C185.1,624.42 186.1,629.07 186.8,631.2C187.5,633.33 187.78,635.17 188.5,634.6C189.22,634.03 190.15,630.22 191.1,627.8C192.05,625.38 193.2,621.1 194.2,620.1C195.2,619.1 196.2,620.52 197.1,621.8C198,623.08 198.95,626.67 199.6,627.8C200.25,628.93 200.42,629.73 201,628.6C201.58,627.47 202.42,624.27 203.1,621C203.78,617.73 204.4,612 205.1,609C205.8,606 206.5,603.57 207.3,603C208.1,602.43 209.03,603.75 209.9,605.6C210.77,607.45 211.78,612.4 212.5,614.1C213.22,615.8 213.5,616.65 214.2,615.8C214.9,614.95 215.93,610.85 216.7,609C217.47,607.15 218.08,604.42 218.8,604.7C219.52,604.98 220.2,608.28 221,610.7C221.8,613.12 222.75,617.2 223.6,619.2C224.45,621.2 225.25,622.7 226.1,622.7C226.95,622.7 227.83,619.63 228.7,619.2C229.57,618.77 230.52,619.67 231.3,620.1C232.08,620.53 232.33,621.08 233.4,621.8C234.47,622.52 236.27,624.83 237.7,624.4C239.13,623.97 240.43,620.63 242,619.2C243.57,617.77 244.97,617.07 247.1,615.8C249.23,614.53 252.67,611.73 254.8,611.6C256.93,611.47 258.33,613.87 259.9,615C261.47,616.13 262.77,618.97 264.2,618.4C265.63,617.83 267.28,612 268.5,611.6C269.72,611.2 270.53,613.68 271.5,616C272.47,618.32 273.3,624.58 274.3,625.5C275.3,626.42 276.38,623.92 277.5,621.5C278.62,619.08 279.83,611.25 281,611C282.17,610.75 283.37,616.7 284.5,620C285.63,623.3 286.8,631.22 287.8,630.8C288.8,630.38 289.53,621.85 290.5,617.5C291.47,613.15 292.6,605.27 293.6,604.7C294.6,604.13 295.53,610.68 296.5,614.1C297.47,617.52 298.4,624.2 299.4,625.2C300.4,626.2 301.42,622.95 302.5,620.1C303.58,617.25 304.77,609.1 305.9,608.1C307.03,607.1 308.02,611.1 309.3,614.1C310.58,617.1 312.45,625.95 313.6,626.1C314.75,626.25 315.2,618.13 316.2,615C317.2,611.87 318.53,607.17 319.6,607.3C320.67,607.43 321.6,612.25 322.6,615.8C323.6,619.35 324.93,626.23 325.6,628.6C326.27,630.97 326.43,629.77 326.6,630" fill="none" stroke="#2323e8" stroke-width="1.25" stroke-linejoin="round" />
<g fill="#eded6a" stroke="#1e1e1e" stroke-width="0.7"><circle cx="63.1" cy="622.4" r="1.5"/><circle cx="63.7" cy="617.2" r="1.5"/><circle cx="64.8" cy="613.8" r="1.5"/><circle cx="66.6" cy="617.8" r="1.5"/><circle cx="67.7" cy="620.6" r="1.5"/><circle cx="69.4" cy="619.5" r="1.5"/><circle cx="70.5" cy="612.7" r="1.5"/><circle cx="71.7" cy="615.5" r="1.5"/><circle cx="72.8" cy="617.8" r="1.5"/><circle cx="74" cy="618.4" r="1.5"/><circle cx="75.1" cy="613.8" r="1.5"/><circle cx="76.8" cy="614.9" r="1.5"/><circle cx="78" cy="613.2" r="1.5"/><circle cx="79.1" cy="610.4" r="1.5"/><circle cx="80.2" cy="612.1" r="1.5"/><circle cx="81.4" cy="613.2" r="1.5"/><circle cx="83.1" cy="614.4" r="1.5"/><circle cx="84.8" cy="612.7" r="1.5"/><circle cx="85.9" cy="606.4" r="1.5"/><circle cx="87.6" cy="608.7" r="1.5"/><circle cx="89.4" cy="605.8" r="1.5"/><circle cx="91.1" cy="603.5" r="1.5"/><circle cx="91.9" cy="601.8" r="1.5"/><circle cx="92.8" cy="605.8" r="1.5"/><circle cx="93.7" cy="609.2" r="1.5"/><circle cx="95" cy="616.1" r="1.5"/><circle cx="96.31" cy="623.37" r="1.5"/><circle cx="97.04" cy="633.81" r="1.5"/><circle cx="97.98" cy="647.11" r="1.5"/><circle cx="98.96" cy="662.89" r="1.5"/><circle cx="100.24" cy="667.19" r="1.5"/><circle cx="101.28" cy="662.74" r="1.5"/><circle cx="102.19" cy="645.85" r="1.5"/><circle cx="103.38" cy="630.22" r="1.5"/><circle cx="104.2" cy="614" r="1.5"/><circle cx="105.3" cy="600.81" r="1.5"/><circle cx="106.34" cy="601.08" r="1.5"/><circle cx="106.94" cy="607.05" r="1.5"/><circle cx="108.34" cy="614.91" r="1.5"/><circle cx="109.34" cy="627.09" r="1.5"/><circle cx="110.2" cy="637.39" r="1.5"/><circle cx="111.19" cy="649.82" r="1.5"/><circle cx="112.36" cy="651.2" r="1.5"/><circle cx="113.29" cy="644.87" r="1.5"/><circle cx="113.99" cy="629.78" r="1.5"/><circle cx="115.35" cy="613.51" r="1.5"/><circle cx="116.24" cy="597.16" r="1.5"/><circle cx="116.94" cy="585.34" r="1.5"/><circle cx="118.3" cy="577.45" r="1.5"/><circle cx="119.31" cy="569.63" r="1.5"/><circle cx="120.21" cy="565.66" r="1.5"/><circle cx="121.18" cy="568.26" r="1.5"/><circle cx="122.44" cy="572.3" r="1.5"/><circle cx="123.49" cy="580.22" r="1.5"/><circle cx="123.91" cy="584.65" r="1.5"/><circle cx="125.39" cy="590.12" r="1.5"/><circle cx="126.17" cy="593.27" r="1.5"/><circle cx="127.03" cy="598.64" r="1.5"/><circle cx="128.03" cy="602.33" r="1.5"/><circle cx="128.99" cy="605.29" r="1.5"/><circle cx="130.47" cy="607.71" r="1.5"/><circle cx="131.39" cy="607.44" r="1.5"/><circle cx="132.43" cy="606.46" r="1.5"/><circle cx="133.04" cy="607.29" r="1.5"/><circle cx="134.19" cy="606.75" r="1.5"/><circle cx="134.9" cy="609.61" r="1.5"/><circle cx="136.17" cy="612.58" r="1.5"/><circle cx="136.98" cy="618.65" r="1.5"/><circle cx="138.09" cy="624.07" r="1.5"/><circle cx="138.9" cy="628.2" r="1.5"/><circle cx="140.4" cy="632.19" r="1.5"/><circle cx="141.46" cy="637.78" r="1.5"/><circle cx="142.44" cy="640.29" r="1.5"/><circle cx="143.12" cy="641.3" r="1.5"/><circle cx="144.5" cy="640.89" r="1.5"/><circle cx="145.12" cy="639.37" r="1.5"/><circle cx="146.07" cy="637.38" r="1.5"/><circle cx="146.96" cy="635.39" r="1.5"/><circle cx="148.07" cy="632.3" r="1.5"/><circle cx="149.05" cy="628.18" r="1.5"/><circle cx="150.21" cy="625.01" r="1.5"/><circle cx="151.12" cy="624.56" r="1.5"/><circle cx="152.43" cy="622.81" r="1.5"/><circle cx="153.28" cy="621.46" r="1.5"/><circle cx="154.46" cy="619.38" r="1.5"/><circle cx="155.33" cy="617.08" r="1.5"/><circle cx="156.34" cy="615.73" r="1.5"/><circle cx="157.35" cy="613.93" r="1.5"/><circle cx="158.07" cy="610.42" r="1.5"/><circle cx="159.46" cy="607.98" r="1.5"/><circle cx="160.18" cy="606.07" r="1.5"/><circle cx="161.08" cy="604.74" r="1.5"/><circle cx="162.49" cy="602.01" r="1.5"/><circle cx="163.29" cy="600.53" r="1.5"/><circle cx="164.23" cy="599.18" r="1.5"/><circle cx="165" cy="597.37" r="1.5"/><circle cx="166.02" cy="597.26" r="1.5"/><circle cx="167.2" cy="595.47" r="1.5"/><circle cx="168.44" cy="597.43" r="1.5"/><circle cx="169.17" cy="597.95" r="1.5"/><circle cx="170.02" cy="600.92" r="1.5"/><circle cx="171.11" cy="601.61" r="1.5"/><circle cx="172.04" cy="599.05" r="1.5"/><circle cx="173.24" cy="602.77" r="1.5"/><circle cx="174.35" cy="606.36" r="1.5"/><circle cx="175.15" cy="607.77" r="1.5"/><circle cx="176.13" cy="608.63" r="1.5"/><circle cx="176.94" cy="609.49" r="1.5"/><circle cx="178.48" cy="610.21" r="1.5"/><circle cx="179.2" cy="612.4" r="1.5"/><circle cx="180.42" cy="613.3" r="1.5"/><circle cx="181.06" cy="614.79" r="1.5"/><circle cx="182.14" cy="616.07" r="1.5"/><circle cx="183.47" cy="617.67" r="1.5"/><circle cx="184.42" cy="619.3" r="1.5"/><circle cx="184.92" cy="624.68" r="1.5"/><circle cx="186.44" cy="628" r="1.5"/><circle cx="187.25" cy="630.8" r="1.5"/><circle cx="188.13" cy="630.38" r="1.5"/><circle cx="189.4" cy="628.37" r="1.5"/><circle cx="190.48" cy="624.97" r="1.5"/><circle cx="190.97" cy="622.39" r="1.5"/><circle cx="192.21" cy="621.59" r="1.5"/><circle cx="193.46" cy="620.09" r="1.5"/><circle cx="194.29" cy="619.82" r="1.5"/><circle cx="195.17" cy="620.98" r="1.5"/><circle cx="195.92" cy="622.85" r="1.5"/><circle cx="197.04" cy="623.77" r="1.5"/><circle cx="198.29" cy="623.29" r="1.5"/><circle cx="198.98" cy="623.5" r="1.5"/><circle cx="200.28" cy="623.69" r="1.5"/><circle cx="200.97" cy="622.17" r="1.5"/><circle cx="202.21" cy="620.41" r="1.5"/><circle cx="203.13" cy="616.37" r="1.5"/><circle cx="204.26" cy="612.26" r="1.5"/><circle cx="205.08" cy="606.39" r="1.5"/><circle cx="206.48" cy="600.09" r="1.5"/><circle cx="207.43" cy="598.56" r="1.5"/><circle cx="208.04" cy="597.79" r="1.5"/><circle cx="209.48" cy="600.42" r="1.5"/><circle cx="210.08" cy="601.34" r="1.5"/><circle cx="211.2" cy="605.43" r="1.5"/><circle cx="212.15" cy="607.81" r="1.5"/><circle cx="213.3" cy="609.92" r="1.5"/><circle cx="214.04" cy="609.53" r="1.5"/><circle cx="215.1" cy="609.67" r="1.5"/><circle cx="216.31" cy="607.32" r="1.5"/><circle cx="217.38" cy="606.18" r="1.5"/><circle cx="218.2" cy="604.53" r="1.5"/><circle cx="219.48" cy="604.45" r="1.5"/><circle cx="220.39" cy="607.88" r="1.5"/><circle cx="221.03" cy="612.76" r="1.5"/><circle cx="222.08" cy="618.2" r="1.5"/><circle cx="223.2" cy="620.84" r="1.5"/><circle cx="224.03" cy="624.77" r="1.5"/><circle cx="225.3" cy="629.54" r="1.5"/><circle cx="225.99" cy="626.83" r="1.5"/><circle cx="227.03" cy="623.47" r="1.5"/><circle cx="227.99" cy="619.02" r="1.5"/><circle cx="228.94" cy="617.45" r="1.5"/><circle cx="230.44" cy="618.68" r="1.5"/><circle cx="231.34" cy="621.12" r="1.5"/><circle cx="232.46" cy="623.1" r="1.5"/><circle cx="233.01" cy="629.45" r="1.5"/><circle cx="234.35" cy="633.04" r="1.5"/><circle cx="235.3" cy="635.97" r="1.5"/><circle cx="236.12" cy="635.48" r="1.5"/><circle cx="237" cy="633.77" r="1.5"/><circle cx="238.07" cy="629" r="1.5"/><circle cx="239.47" cy="625.36" r="1.5"/><circle cx="240.48" cy="622.44" r="1.5"/><circle cx="241.11" cy="619.97" r="1.5"/><circle cx="242.39" cy="615.79" r="1.5"/><circle cx="242.93" cy="612.93" r="1.5"/><circle cx="244.12" cy="613.19" r="1.5"/><circle cx="245.02" cy="612.9" r="1.5"/><circle cx="246.44" cy="612.08" r="1.5"/><circle cx="247.15" cy="612.67" r="1.5"/><circle cx="248.36" cy="609.42" r="1.5"/><circle cx="248.92" cy="607.62" r="1.5"/><circle cx="250.45" cy="609.17" r="1.5"/><circle cx="251.35" cy="611.44" r="1.5"/><circle cx="252.1" cy="611.69" r="1.5"/><circle cx="253.47" cy="613.49" r="1.5"/><circle cx="254.06" cy="614.15" r="1.5"/><circle cx="255.09" cy="613.94" r="1.5"/><circle cx="255.9" cy="614.4" r="1.5"/><circle cx="257.45" cy="612.69" r="1.5"/><circle cx="258.47" cy="610.19" r="1.5"/><circle cx="259.04" cy="608.81" r="1.5"/><circle cx="260.47" cy="607.55" r="1.5"/><circle cx="261.13" cy="605.71" r="1.5"/><circle cx="262.16" cy="606.32" r="1.5"/><circle cx="263.46" cy="608.26" r="1.5"/><circle cx="264.38" cy="613.38" r="1.5"/><circle cx="265.39" cy="618.44" r="1.5"/><circle cx="266.26" cy="623.02" r="1.5"/><circle cx="267.09" cy="623.81" r="1.5"/><circle cx="268.37" cy="622.12" r="1.5"/><circle cx="269.02" cy="620.57" r="1.5"/><circle cx="270.05" cy="615.91" r="1.5"/><circle cx="270.92" cy="614.83" r="1.5"/><circle cx="272.1" cy="614.07" r="1.5"/><circle cx="273.43" cy="616.68" r="1.5"/><circle cx="274.06" cy="617.83" r="1.5"/><circle cx="274.96" cy="616.02" r="1.5"/><circle cx="276.33" cy="613.46" r="1.5"/><circle cx="277.04" cy="608.72" r="1.5"/><circle cx="278.27" cy="604.46" r="1.5"/><circle cx="279.35" cy="602.57" r="1.5"/><circle cx="280.3" cy="600.41" r="1.5"/><circle cx="281.4" cy="602.42" r="1.5"/><circle cx="282.24" cy="608.59" r="1.5"/><circle cx="283.34" cy="615.42" r="1.5"/><circle cx="284.05" cy="620.49" r="1.5"/><circle cx="284.99" cy="625.69" r="1.5"/><circle cx="286.25" cy="625.66" r="1.5"/><circle cx="287.14" cy="624.46" r="1.5"/><circle cx="288.2" cy="619.63" r="1.5"/><circle cx="289.39" cy="614.2" r="1.5"/><circle cx="290.49" cy="607.32" r="1.5"/><circle cx="291.18" cy="606.04" r="1.5"/><circle cx="292.4" cy="603.76" r="1.5"/><circle cx="292.92" cy="604.02" r="1.5"/><circle cx="293.97" cy="605.1" r="1.5"/><circle cx="295.48" cy="609.84" r="1.5"/><circle cx="296.46" cy="613.99" r="1.5"/><circle cx="297.42" cy="620.06" r="1.5"/><circle cx="298.06" cy="626.54" r="1.5"/><circle cx="299.47" cy="623.29" r="1.5"/><circle cx="300.26" cy="621.93" r="1.5"/><circle cx="301.03" cy="618.83" r="1.5"/><circle cx="301.98" cy="613.77" r="1.5"/><circle cx="303.05" cy="609.6" r="1.5"/><circle cx="304.29" cy="605.92" r="1.5"/><circle cx="304.91" cy="603.83" r="1.5"/><circle cx="306.31" cy="603.09" r="1.5"/><circle cx="307.09" cy="606.78" r="1.5"/><circle cx="308.38" cy="610.98" r="1.5"/><circle cx="308.94" cy="614.72" r="1.5"/><circle cx="310.14" cy="620.24" r="1.5"/><circle cx="311.28" cy="624.16" r="1.5"/><circle cx="312" cy="629.2" r="1.5"/><circle cx="313.15" cy="632.62" r="1.5"/><circle cx="314.08" cy="631.68" r="1.5"/><circle cx="315.09" cy="624.97" r="1.5"/><circle cx="316.11" cy="618.86" r="1.5"/><circle cx="317.42" cy="614.75" r="1.5"/><circle cx="318.12" cy="608.43" r="1.5"/><circle cx="319.34" cy="606.93" r="1.5"/><circle cx="319.9" cy="610.04" r="1.5"/><circle cx="321.15" cy="612.21" r="1.5"/><circle cx="322.14" cy="615.81" r="1.5"/><circle cx="323.18" cy="617.75" r="1.5"/><circle cx="323.91" cy="619.84" r="1.5"/><circle cx="325.28" cy="621.87" r="1.5"/><circle cx="325.95" cy="622.94" r="1.5"/></g>
</g>
<text x="312.9" y="576" font-size="12" text-anchor="end"><tspan font-style="italic">E</tspan><tspan font-size="8.5" dy="2.7">THz</tspan><tspan dy="-2.7" font-style="italic" style="stroke-width:0.35px"> // </tspan><tspan class="serif" font-style="italic">b</tspan></text>
<g clip-path="url(#cf2)">
<path d="M62.8,704.4C65.23,704.4 73.47,705.05 77.4,704.4C81.33,703.75 84.13,701.65 86.4,700.5C88.67,699.35 89.72,698.13 91,697.5C92.28,696.87 93.17,696.2 94.1,696.7C95.03,697.2 95.75,697.73 96.6,700.5C97.45,703.27 98.22,709.02 99.2,713.3C100.18,717.58 101.65,723.85 102.5,726.2C103.35,728.55 103.57,728.27 104.3,727.4C105.03,726.53 105.83,724.63 106.9,721C107.97,717.37 109.22,709.87 110.7,705.6C112.18,701.33 114,697.75 115.8,695.4C117.6,693.05 119.57,691.93 121.5,691.5C123.43,691.07 125.78,691.93 127.4,692.8C129.02,693.67 129.92,694.77 131.2,696.7C132.48,698.63 133.82,702.05 135.1,704.4C136.38,706.75 137.4,709.1 138.9,710.8C140.4,712.5 142.38,714.18 144.1,714.6C145.82,715.02 147.6,714.15 149.2,713.3C150.8,712.45 151.67,711.85 153.7,709.5C155.73,707.15 159.18,701.47 161.4,699.2C163.62,696.93 165.3,696.02 167,695.9C168.7,695.78 169.55,696.88 171.6,698.5C173.65,700.12 176.3,703.63 179.3,705.6C182.3,707.57 186.82,709.87 189.6,710.3C192.38,710.73 193.65,709.48 196,708.2C198.35,706.92 200.92,704.1 203.7,702.6C206.48,701.1 209.92,699.33 212.7,699.2C215.48,699.07 217.83,700.73 220.4,701.8C222.97,702.87 225.5,704.65 228.1,705.6C230.7,706.55 233.35,707.67 236,707.5C238.65,707.33 240.88,705.38 244,704.6C247.12,703.82 251.12,702.97 254.7,702.8C258.28,702.63 262.37,703.17 265.5,703.6C268.63,704.03 271.28,704.87 273.5,705.4C275.72,705.93 277.02,706.93 278.8,706.8C280.58,706.67 281.73,705.13 284.2,704.6C286.67,704.07 291.15,703.9 293.6,703.6C296.05,703.3 296.67,702.72 298.9,702.8C301.13,702.88 304.32,703.67 307,704.1C309.68,704.53 312.55,705.32 315,705.4C317.45,705.48 319.78,704.82 321.7,704.6C323.62,704.38 325.7,704.18 326.5,704.1" fill="none" stroke="#ff3aa0" stroke-width="1.3" stroke-linejoin="round" />
<path d="M62.8,754.4L63.2,754.4L63.6,754.4L64.01,754.4L64.41,754.41L64.81,754.41L65.21,754.42L65.61,754.42L66.02,754.43L66.42,754.44L66.82,754.45L67.22,754.46L67.62,754.47L68.03,754.48L68.43,754.49L68.83,754.51L69.23,754.52L69.63,754.53L70.04,754.55L70.44,754.56L70.84,754.58L71.24,754.59L71.64,754.61L72.05,754.63L72.45,754.64L72.85,754.66L73.25,754.67L73.66,754.69L74.06,754.71L74.46,754.72L74.86,754.74L75.26,754.75L75.67,754.77L76.07,754.78L76.47,754.79L76.87,754.81L77.27,754.82L77.68,754.83L78.08,754.84L78.48,754.85L78.88,754.86L79.28,754.87L79.69,754.88L80.09,754.88L80.49,754.89L80.89,754.89L81.29,754.9L81.7,754.9L82.1,754.9L82.5,754.9L82.91,754.91L83.32,754.96L83.73,755.02L84.14,755.12L84.55,755.24L84.96,755.39L85.37,755.55L85.78,755.74L86.19,755.95L86.6,756.17L87.01,756.41L87.42,756.66L87.83,756.92L88.24,757.18L88.65,757.45L89.06,757.72L89.47,757.98L89.88,758.24L90.29,758.49L90.7,758.73L91.11,758.95L91.52,759.16L91.93,759.35L92.34,759.51L92.75,759.66L93.16,759.78L93.57,759.88L93.98,759.94L94.39,759.99L94.8,760L95.21,759.84L95.63,759.35L96.04,758.55L96.46,757.46L96.87,756.1L97.29,754.5L97.7,752.7L98.11,750.73L98.53,748.65L98.94,746.49L99.36,744.31L99.77,742.15L100.19,740.07L100.6,738.1L101.01,736.3L101.43,734.7L101.84,733.34L102.26,732.25L102.67,731.45L103.09,730.96L103.5,730.8L103.9,731.08L104.3,731.93L104.7,733.32L105.1,735.21L105.5,737.57L105.9,740.32L106.3,743.41L106.7,746.76L107.1,750.29L107.5,753.9L107.9,757.51L108.3,761.04L108.7,764.39L109.1,767.48L109.5,770.23L109.9,772.59L110.3,774.48L110.7,775.87L111.1,776.72L111.5,777L111.91,776.76L112.32,776.05L112.73,774.88L113.14,773.3L113.56,771.36L113.97,769.1L114.38,766.6L114.79,763.94L115.2,761.2L115.61,758.46L116.02,755.8L116.43,753.3L116.84,751.04L117.26,749.1L117.67,747.52L118.08,746.35L118.49,745.64L118.9,745.4L119.3,745.47L119.71,745.67L120.11,746L120.52,746.46L120.92,747.04L121.33,747.72L121.73,748.49L122.13,749.34L122.54,750.26L122.94,751.21L123.35,752.2L123.75,753.2L124.16,754.19L124.56,755.14L124.97,756.06L125.37,756.91L125.77,757.68L126.18,758.36L126.58,758.94L126.99,759.4L127.39,759.73L127.8,759.93L128.2,760L128.61,759.93L129.02,759.72L129.43,759.38L129.84,758.92L130.25,758.35L130.66,757.67L131.07,756.92L131.48,756.1L131.89,755.23L132.3,754.35L132.71,753.47L133.12,752.6L133.53,751.78L133.94,751.03L134.35,750.35L134.76,749.78L135.17,749.32L135.58,748.98L135.99,748.77L136.4,748.7L136.82,748.77L137.24,748.98L137.65,749.31L138.07,749.77L138.49,750.33L138.91,750.97L139.32,751.68L139.74,752.42L140.16,753.18L140.58,753.92L140.99,754.63L141.41,755.27L141.83,755.83L142.25,756.29L142.66,756.62L143.08,756.83L143.5,756.9L143.92,756.86L144.34,756.75L144.77,756.56L145.19,756.3L145.61,755.99L146.03,755.62L146.46,755.22L146.88,754.79L147.3,754.35L147.72,753.91L148.14,753.48L148.57,753.07L148.99,752.71L149.41,752.4L149.83,752.14L150.26,751.95L150.68,751.84L151.1,751.8L151.5,751.87L151.9,752.06L152.3,752.38L152.7,752.79L153.1,753.28L153.5,753.82L153.9,754.38L154.3,754.92L154.7,755.41L155.1,755.82L155.5,756.14L155.9,756.33L156.3,756.4L156.73,756.35L157.15,756.2L157.58,755.96L158.01,755.64L158.43,755.25L158.86,754.81L159.29,754.34L159.71,753.86L160.14,753.39L160.57,752.95L160.99,752.56L161.42,752.24L161.85,752L162.27,751.85L162.7,751.8L163.12,751.86L163.55,752.05L163.97,752.36L164.4,752.75L164.82,753.21L165.25,753.7L165.68,754.19L166.1,754.65L166.53,755.04L166.95,755.35L167.38,755.54L167.8,755.6L168.23,755.57L168.65,755.49L169.08,755.36L169.51,755.19L169.93,754.98L170.36,754.74L170.79,754.48L171.21,754.22L171.64,753.96L172.07,753.73L172.49,753.51L172.92,753.34L173.35,753.21L173.77,753.13L174.2,753.1L174.62,753.14L175.05,753.27L175.47,753.47L175.9,753.73L176.32,754.03L176.75,754.35L177.18,754.67L177.6,754.98L178.03,755.23L178.45,755.43L178.88,755.56L179.3,755.6L179.72,755.58L180.14,755.53L180.55,755.44L180.97,755.31L181.39,755.16L181.81,754.99L182.22,754.8L182.64,754.6L183.06,754.4L183.48,754.2L183.89,754.01L184.31,753.84L184.73,753.69L185.15,753.56L185.56,753.47L185.98,753.42L186.4,753.4L186.82,753.42L187.24,753.47L187.65,753.56L188.07,753.69L188.49,753.84L188.91,754.01L189.32,754.2L189.74,754.4L190.16,754.6L190.58,754.8L190.99,754.99L191.41,755.16L191.83,755.31L192.25,755.44L192.66,755.53L193.08,755.58L193.5,755.6L193.92,755.58L194.34,755.53L194.75,755.44L195.17,755.31L195.59,755.16L196.01,754.99L196.42,754.8L196.84,754.6L197.26,754.4L197.68,754.2L198.09,754.01L198.51,753.84L198.93,753.69L199.35,753.56L199.76,753.47L200.18,753.42L200.6,753.4L201.02,753.42L201.44,753.47L201.85,753.56L202.27,753.69L202.69,753.84L203.11,754.01L203.52,754.2L203.94,754.4L204.36,754.6L204.78,754.8L205.19,754.99L205.61,755.16L206.03,755.31L206.45,755.44L206.86,755.53L207.28,755.58L207.7,755.6L208.12,755.58L208.54,755.53L208.95,755.44L209.37,755.31L209.79,755.16L210.21,754.99L210.62,754.8L211.04,754.6L211.46,754.4L211.88,754.2L212.29,754.01L212.71,753.84L213.13,753.69L213.55,753.56L213.96,753.47L214.38,753.42L214.8,753.4L215.22,753.42L215.64,753.47L216.05,753.56L216.47,753.69L216.89,753.84L217.31,754.01L217.72,754.2L218.14,754.4L218.56,754.6L218.98,754.8L219.39,754.99L219.81,755.16L220.23,755.31L220.65,755.44L221.06,755.53L221.48,755.58L221.9,755.6L222.32,755.58L222.74,755.53L223.15,755.44L223.57,755.31L223.99,755.16L224.41,754.99L224.82,754.8L225.24,754.6L225.66,754.4L226.08,754.2L226.49,754.01L226.91,753.84L227.33,753.69L227.75,753.56L228.16,753.47L228.58,753.42L229,753.4L229.42,753.42L229.84,753.47L230.25,753.56L230.67,753.69L231.09,753.84L231.51,754.01L231.92,754.2L232.34,754.4L232.76,754.6L233.18,754.8L233.59,754.99L234.01,755.16L234.43,755.31L234.85,755.44L235.26,755.53L235.68,755.58L236.1,755.6L236.52,755.58L236.94,755.53L237.35,755.44L237.77,755.31L238.19,755.16L238.61,754.99L239.02,754.8L239.44,754.6L239.86,754.4L240.28,754.2L240.69,754.01L241.11,753.84L241.53,753.69L241.95,753.56L242.36,753.47L242.78,753.42L243.2,753.4L243.62,753.42L244.04,753.47L244.45,753.56L244.87,753.69L245.29,753.84L245.71,754.01L246.12,754.2L246.54,754.4L246.96,754.6L247.38,754.8L247.79,754.99L248.21,755.16L248.63,755.31L249.05,755.44L249.46,755.53L249.88,755.58L250.3,755.6L250.72,755.58L251.14,755.53L251.55,755.44L251.97,755.31L252.39,755.16L252.81,754.99L253.22,754.8L253.64,754.6L254.06,754.4L254.48,754.2L254.89,754.01L255.31,753.84L255.73,753.69L256.15,753.56L256.56,753.47L256.98,753.42L257.4,753.4L257.82,753.42L258.24,753.47L258.65,753.56L259.07,753.69L259.49,753.84L259.91,754.01L260.32,754.2L260.74,754.4L261.16,754.6L261.58,754.8L261.99,754.99L262.41,755.16L262.83,755.31L263.25,755.44L263.66,755.53L264.08,755.58L264.5,755.6L264.92,755.58L265.34,755.53L265.75,755.44L266.17,755.31L266.59,755.16L267.01,754.99L267.42,754.8L267.84,754.6L268.26,754.4L268.68,754.2L269.09,754.01L269.51,753.84L269.93,753.69L270.35,753.56L270.76,753.47L271.18,753.42L271.6,753.4L272.02,753.42L272.44,753.47L272.85,753.56L273.27,753.69L273.69,753.84L274.11,754.01L274.52,754.2L274.94,754.4L275.36,754.6L275.78,754.8L276.19,754.99L276.61,755.16L277.03,755.31L277.45,755.44L277.86,755.53L278.28,755.58L278.7,755.6L279.12,755.58L279.54,755.53L279.95,755.44L280.37,755.31L280.79,755.16L281.21,754.99L281.62,754.8L282.04,754.6L282.46,754.4L282.88,754.2L283.29,754.01L283.71,753.84L284.13,753.69L284.55,753.56L284.96,753.47L285.38,753.42L285.8,753.4L286.22,753.42L286.64,753.47L287.05,753.56L287.47,753.69L287.89,753.84L288.31,754.01L288.72,754.2L289.14,754.4L289.56,754.6L289.98,754.8L290.39,754.99L290.81,755.16L291.23,755.31L291.65,755.44L292.06,755.53L292.48,755.58L292.9,755.6L293.32,755.58L293.74,755.53L294.15,755.44L294.57,755.31L294.99,755.16L295.41,754.99L295.82,754.8L296.24,754.6L296.66,754.4L297.08,754.2L297.49,754.01L297.91,753.84L298.33,753.69L298.75,753.56L299.16,753.47L299.58,753.42L300,753.4L300.42,753.42L300.84,753.47L301.25,753.56L301.67,753.69L302.09,753.84L302.51,754.01L302.92,754.2L303.34,754.4L303.76,754.6L304.18,754.8L304.59,754.99L305.01,755.16L305.43,755.31L305.85,755.44L306.26,755.53L306.68,755.58L307.1,755.6L307.52,755.58L307.94,755.53L308.35,755.44L308.77,755.31L309.19,755.16L309.61,754.99L310.02,754.8L310.44,754.6L310.86,754.4L311.28,754.2L311.69,754.01L312.11,753.84L312.53,753.69L312.95,753.56L313.36,753.47L313.78,753.42L314.2,753.4L314.62,753.42L315.04,753.47L315.45,753.56L315.87,753.69L316.29,753.84L316.71,754.01L317.12,754.2L317.54,754.4L317.96,754.6L318.38,754.8L318.79,754.99L319.21,755.16L319.63,755.31L320.05,755.44L320.46,755.53L320.88,755.58L321.3,755.6L321.72,755.58L322.14,755.53L322.55,755.44L322.97,755.31L323.39,755.16L323.81,754.99L324.22,754.8L324.64,754.6L325.06,754.4L325.48,754.2L325.89,754.01L326.31,753.84L326.73,753.69L327.15,753.56L327.56,753.47L327.98,753.42L328.4,753.4" fill="none" stroke="#ff8f24" stroke-width="1.3" stroke-linejoin="round" />
<path d="M62.8,783.1L63.2,783.1L63.6,783.1L64,783.1L64.41,783.1L64.81,783.09L65.21,783.09L65.61,783.09L66.01,783.09L66.41,783.08L66.81,783.08L67.21,783.08L67.62,783.07L68.02,783.07L68.42,783.06L68.82,783.06L69.22,783.05L69.62,783.04L70.02,783.04L70.42,783.03L70.83,783.02L71.23,783.02L71.63,783.01L72.03,783L72.43,782.99L72.83,782.98L73.23,782.98L73.63,782.97L74.04,782.96L74.44,782.95L74.84,782.94L75.24,782.93L75.64,782.92L76.04,782.91L76.44,782.9L76.84,782.89L77.25,782.88L77.65,782.87L78.05,782.86L78.45,782.85L78.85,782.84L79.25,782.83L79.65,782.82L80.06,782.81L80.46,782.8L80.86,782.79L81.26,782.78L81.66,782.77L82.06,782.76L82.46,782.75L82.86,782.74L83.27,782.73L83.67,782.73L84.07,782.72L84.47,782.71L84.87,782.7L85.27,782.69L85.67,782.68L86.07,782.68L86.48,782.67L86.88,782.66L87.28,782.66L87.68,782.65L88.08,782.64L88.48,782.64L88.88,782.63L89.28,782.63L89.69,782.62L90.09,782.62L90.49,782.62L90.89,782.61L91.29,782.61L91.69,782.61L92.09,782.61L92.49,782.6L92.9,782.6L93.3,782.6L93.7,782.6L94.1,782.6L94.51,782.63L94.91,782.7L95.32,782.82L95.72,782.99L96.13,783.2L96.54,783.43L96.94,783.69L97.35,783.96L97.75,784.24L98.16,784.51L98.56,784.77L98.97,785L99.38,785.21L99.78,785.38L100.19,785.5L100.59,785.57L101,785.6L101.42,785.56L101.83,785.43L102.25,785.23L102.66,784.96L103.08,784.62L103.49,784.22L103.91,783.78L104.33,783.3L104.74,782.8L105.16,782.3L105.57,781.8L105.99,781.32L106.41,780.88L106.82,780.48L107.24,780.14L107.65,779.87L108.07,779.67L108.48,779.54L108.9,779.5L109.31,779.58L109.73,779.81L110.14,780.18L110.56,780.67L110.97,781.25L111.39,781.91L111.8,782.6L112.21,783.29L112.63,783.95L113.04,784.53L113.46,785.02L113.87,785.39L114.29,785.62L114.7,785.7L115.11,785.62L115.53,785.4L115.94,785.03L116.36,784.55L116.77,783.97L117.19,783.33L117.6,782.65L118.01,781.97L118.43,781.33L118.84,780.75L119.26,780.27L119.67,779.9L120.09,779.68L120.5,779.6L120.91,779.68L121.33,779.9L121.74,780.27L122.16,780.75L122.57,781.33L122.99,781.97L123.4,782.65L123.81,783.33L124.23,783.97L124.64,784.55L125.06,785.03L125.47,785.4L125.89,785.62L126.3,785.7L126.71,785.62L127.13,785.4L127.54,785.03L127.96,784.55L128.37,783.97L128.79,783.33L129.2,782.65L129.61,781.97L130.03,781.33L130.44,780.75L130.86,780.27L131.27,779.9L131.69,779.68L132.1,779.6L132.51,779.68L132.93,779.9L133.34,780.27L133.76,780.75L134.17,781.33L134.59,781.97L135,782.65L135.41,783.33L135.83,783.97L136.24,784.55L136.66,785.03L137.07,785.4L137.49,785.62L137.9,785.7L138.31,785.62L138.73,785.4L139.14,785.03L139.56,784.55L139.97,783.97L140.39,783.33L140.8,782.65L141.21,781.97L141.63,781.33L142.04,780.75L142.46,780.27L142.87,779.9L143.29,779.68L143.7,779.6L144.11,779.68L144.53,779.9L144.94,780.27L145.36,780.75L145.77,781.33L146.19,781.97L146.6,782.65L147.01,783.33L147.43,783.97L147.84,784.55L148.26,785.03L148.67,785.4L149.09,785.62L149.5,785.7L149.91,785.62L150.33,785.4L150.74,785.03L151.16,784.55L151.57,783.97L151.99,783.33L152.4,782.65L152.81,781.97L153.23,781.33L153.64,780.75L154.06,780.27L154.47,779.9L154.89,779.68L155.3,779.6L155.71,779.68L156.13,779.9L156.54,780.27L156.96,780.75L157.37,781.33L157.79,781.97L158.2,782.65L158.61,783.33L159.03,783.97L159.44,784.55L159.86,785.03L160.27,785.4L160.69,785.62L161.1,785.7L161.51,785.62L161.93,785.4L162.34,785.03L162.76,784.55L163.17,783.97L163.59,783.33L164,782.65L164.41,781.97L164.83,781.33L165.24,780.75L165.66,780.27L166.07,779.9L166.49,779.68L166.9,779.6L167.31,779.68L167.73,779.9L168.14,780.27L168.56,780.75L168.97,781.33L169.39,781.97L169.8,782.65L170.21,783.33L170.63,783.97L171.04,784.55L171.46,785.03L171.87,785.4L172.29,785.62L172.7,785.7L173.11,785.62L173.53,785.4L173.94,785.03L174.36,784.55L174.77,783.97L175.19,783.33L175.6,782.65L176.01,781.97L176.43,781.33L176.84,780.75L177.26,780.27L177.67,779.9L178.09,779.68L178.5,779.6L178.91,779.68L179.33,779.9L179.74,780.27L180.16,780.75L180.57,781.33L180.99,781.97L181.4,782.65L181.81,783.33L182.23,783.97L182.64,784.55L183.06,785.03L183.47,785.4L183.89,785.62L184.3,785.7L184.71,785.62L185.13,785.4L185.54,785.03L185.96,784.55L186.37,783.97L186.79,783.33L187.2,782.65L187.61,781.97L188.03,781.33L188.44,780.75L188.86,780.27L189.27,779.9L189.69,779.68L190.1,779.6L190.51,779.68L190.93,779.9L191.34,780.27L191.76,780.75L192.17,781.33L192.59,781.97L193,782.65L193.41,783.33L193.83,783.97L194.24,784.55L194.66,785.03L195.07,785.4L195.49,785.62L195.9,785.7L196.31,785.62L196.73,785.4L197.14,785.03L197.56,784.55L197.97,783.97L198.39,783.33L198.8,782.65L199.21,781.97L199.63,781.33L200.04,780.75L200.46,780.27L200.87,779.9L201.29,779.68L201.7,779.6L202.11,779.68L202.53,779.9L202.94,780.27L203.36,780.75L203.77,781.33L204.19,781.97L204.6,782.65L205.01,783.33L205.43,783.97L205.84,784.55L206.26,785.03L206.67,785.4L207.09,785.62L207.5,785.7L207.91,785.62L208.33,785.4L208.74,785.03L209.16,784.55L209.57,783.97L209.99,783.33L210.4,782.65L210.81,781.97L211.23,781.33L211.64,780.75L212.06,780.27L212.47,779.9L212.89,779.68L213.3,779.6L213.71,779.68L214.13,779.9L214.54,780.27L214.96,780.75L215.37,781.33L215.79,781.97L216.2,782.65L216.61,783.33L217.03,783.97L217.44,784.55L217.86,785.03L218.27,785.4L218.69,785.62L219.1,785.7L219.51,785.62L219.93,785.4L220.34,785.03L220.76,784.55L221.17,783.97L221.59,783.33L222,782.65L222.41,781.97L222.83,781.33L223.24,780.75L223.66,780.27L224.07,779.9L224.49,779.68L224.9,779.6L225.31,779.68L225.73,779.9L226.14,780.27L226.56,780.75L226.97,781.33L227.39,781.97L227.8,782.65L228.21,783.33L228.63,783.97L229.04,784.55L229.46,785.03L229.87,785.4L230.29,785.62L230.7,785.7L231.11,785.62L231.53,785.4L231.94,785.03L232.36,784.55L232.77,783.97L233.19,783.33L233.6,782.65L234.01,781.97L234.43,781.33L234.84,780.75L235.26,780.27L235.67,779.9L236.09,779.68L236.5,779.6L236.91,779.68L237.33,779.9L237.74,780.27L238.16,780.75L238.57,781.33L238.99,781.97L239.4,782.65L239.81,783.33L240.23,783.97L240.64,784.55L241.06,785.03L241.47,785.4L241.89,785.62L242.3,785.7L242.71,785.62L243.13,785.4L243.54,785.03L243.96,784.55L244.37,783.97L244.79,783.33L245.2,782.65L245.61,781.97L246.03,781.33L246.44,780.75L246.86,780.27L247.27,779.9L247.69,779.68L248.1,779.6L248.51,779.68L248.93,779.9L249.34,780.27L249.76,780.75L250.17,781.33L250.59,781.97L251,782.65L251.41,783.33L251.83,783.97L252.24,784.55L252.66,785.03L253.07,785.4L253.49,785.62L253.9,785.7L254.31,785.62L254.73,785.4L255.14,785.03L255.56,784.55L255.97,783.97L256.39,783.33L256.8,782.65L257.21,781.97L257.63,781.33L258.04,780.75L258.46,780.27L258.87,779.9L259.29,779.68L259.7,779.6L260.11,779.68L260.53,779.9L260.94,780.27L261.36,780.75L261.77,781.33L262.19,781.97L262.6,782.65L263.01,783.33L263.43,783.97L263.84,784.55L264.26,785.03L264.67,785.4L265.09,785.62L265.5,785.7L265.91,785.62L266.33,785.4L266.74,785.03L267.16,784.55L267.57,783.97L267.99,783.33L268.4,782.65L268.81,781.97L269.23,781.33L269.64,780.75L270.06,780.27L270.47,779.9L270.89,779.68L271.3,779.6L271.71,779.68L272.13,779.9L272.54,780.27L272.96,780.75L273.37,781.33L273.79,781.97L274.2,782.65L274.61,783.33L275.03,783.97L275.44,784.55L275.86,785.03L276.27,785.4L276.69,785.62L277.1,785.7L277.51,785.62L277.93,785.4L278.34,785.03L278.76,784.55L279.17,783.97L279.59,783.33L280,782.65L280.41,781.97L280.83,781.33L281.24,780.75L281.66,780.27L282.07,779.9L282.49,779.68L282.9,779.6L283.31,779.68L283.73,779.9L284.14,780.27L284.56,780.75L284.97,781.33L285.39,781.97L285.8,782.65L286.21,783.33L286.63,783.97L287.04,784.55L287.46,785.03L287.87,785.4L288.29,785.62L288.7,785.7L289.11,785.62L289.53,785.4L289.94,785.03L290.36,784.55L290.77,783.97L291.19,783.33L291.6,782.65L292.01,781.97L292.43,781.33L292.84,780.75L293.26,780.27L293.67,779.9L294.09,779.68L294.5,779.6L294.91,779.68L295.33,779.9L295.74,780.27L296.16,780.75L296.57,781.33L296.99,781.97L297.4,782.65L297.81,783.33L298.23,783.97L298.64,784.55L299.06,785.03L299.47,785.4L299.89,785.62L300.3,785.7L300.71,785.62L301.13,785.4L301.54,785.03L301.96,784.55L302.37,783.97L302.79,783.33L303.2,782.65L303.61,781.97L304.03,781.33L304.44,780.75L304.86,780.27L305.27,779.9L305.69,779.68L306.1,779.6L306.51,779.68L306.93,779.9L307.34,780.27L307.76,780.75L308.17,781.33L308.59,781.97L309,782.65L309.41,783.33L309.83,783.97L310.24,784.55L310.66,785.03L311.07,785.4L311.49,785.62L311.9,785.7L312.31,785.62L312.73,785.4L313.14,785.03L313.56,784.55L313.97,783.97L314.39,783.33L314.8,782.65L315.21,781.97L315.63,781.33L316.04,780.75L316.46,780.27L316.87,779.9L317.29,779.68L317.7,779.6L318.11,779.68L318.53,779.9L318.94,780.27L319.36,780.75L319.77,781.33L320.19,781.97L320.6,782.65L321.01,783.33L321.43,783.97L321.84,784.55L322.26,785.03L322.67,785.4L323.09,785.62L323.5,785.7L323.91,785.62L324.33,785.4L324.74,785.03L325.16,784.55L325.57,783.97L325.99,783.33L326.4,782.65L326.81,781.97L327.23,781.33L327.64,780.75L328.06,780.27L328.47,779.9L328.89,779.68L329.3,779.6" fill="none" stroke="#2bec2b" stroke-width="1.35" stroke-linejoin="round" />
</g>
<text x="262.6" y="695.7" font-size="11.9">11.2</text>
<text x="289.3" y="695.7" font-size="11.9">cm</text>
<text x="306.2" y="691.1" font-size="8.4">&#8722;1</text>
<text x="262.6" y="743" font-size="11.9">31.9</text>
<text x="289.3" y="743" font-size="11.9">cm</text>
<text x="306.2" y="738.4" font-size="8.4">&#8722;1</text>
<text x="262.6" y="771.1" font-size="11.9">40.6</text>
<text x="289.3" y="771.1" font-size="11.9">cm</text>
<text x="306.2" y="766.5" font-size="8.4">&#8722;1</text>
<text x="212" y="696.2" font-size="12" text-anchor="end">&#215; 0.5</text>
<text x="212" y="743.5" font-size="12" text-anchor="end">&#215; 0.5</text>
<text x="212" y="771.6" font-size="12" text-anchor="end">&#215; 0.5</text>
<defs><filter id="soft" x="-10%" y="-10%" width="120%" height="120%"><feGaussianBlur stdDeviation="0.3"/></filter><linearGradient id="slabg" x1="0" y1="0" x2="0.35" y2="1"><stop offset="0" stop-color="#a9a9a9"/><stop offset="1" stop-color="#ececec"/></linearGradient><radialGradient id="yspot"><stop offset="0" stop-color="#e6f000"/><stop offset="0.55" stop-color="#e6f000"/><stop offset="1" stop-color="#e6f000" stop-opacity="0"/></radialGradient></defs>
<polygon points="1.6,57.3 6.8,57.8 6.8,98.8 1.6,99.3" fill="#767676"/>
<polygon points="1.6,57.3 17.9,45.2 22.8,45.3 6.8,57.8" fill="#686868"/>
<polygon points="6.8,57.8 22.8,45.3 22.8,84.7 6.8,98.8" fill="url(#slabg)"/>
<path d="M22.6,45.6V84.6" stroke="#8a8a8a" stroke-width="0.6"/>
<ellipse cx="14.5" cy="70.2" rx="4.8" ry="14" fill="url(#yspot)"/>
<path d="M17,71.4L138.5,67.4" stroke="#c47a7a" stroke-width="0.9" fill="none"/>
<path d="M16,72.4L123.5,103.2" stroke="#8e1a1a" stroke-width="0.9" fill="none"/>
<path d="M127.5,104.3L121.04,105.05L122.42,100.24Z" fill="#8e1a1a"/>
<path d="M13.6,71.6L18.56,69.5L18.64,73.5Z" fill="#8e1a1a"/>
<path d="M26,73.8L131.8,83.3" stroke="#f21d1d" stroke-width="0.9" fill="none"/>
<path d="M23.3,73.6L28.99,71.7L28.56,76.48Z" fill="#f21d1d"/>
<path d="M111.34,73.03L138.29,52.97M108.51,77.51L140.51,53.69M107.35,80.74L141.05,55.66M107.89,82.71L139.89,58.89M110.11,83.43L137.06,63.37M116.56,72.7L130.71,62.17M117.69,74.23L131.84,63.7" stroke="#7a0a0a" stroke-width="1.0" fill="none"/>
<path d="M59.9,98.29L99.48,74.07M55.64,103.12L102.64,74.36M53.86,106.44L103.34,76.16M54.56,108.24L101.56,79.48M57.72,108.53L97.3,84.31M67.72,96.85L88.49,84.13M68.71,98.47L89.48,85.75" stroke="#7a0a0a" stroke-width="1.0" fill="none"/>
<path d="M38.26,74.87L38.36,74.87L38.46,74.88L38.56,74.89L38.66,74.9L38.76,74.91L38.86,74.92L38.96,74.93L39.06,74.94L39.16,74.95L39.26,74.96L39.36,74.96L39.46,74.97L39.56,74.98L39.66,74.99L39.76,75L39.86,75.01L39.96,75.02L40.06,75.03L40.16,75.04L40.26,75.05L40.36,75.05L40.46,75.06L40.56,75.07L40.65,75.08L40.75,75.09L40.85,75.1L40.95,75.11L41.05,75.12L41.15,75.13L41.25,75.13L41.35,75.14L41.45,75.15L41.55,75.16L41.65,75.17L41.75,75.18L41.85,75.19L41.95,75.2L42.05,75.21L42.15,75.21L42.25,75.22L42.35,75.23L42.45,75.24L42.55,75.25L42.65,75.25L42.75,75.26L42.85,75.27L42.95,75.28L43.05,75.28L43.14,75.29L43.24,75.29L43.34,75.29L43.44,75.29L43.54,75.29L43.64,75.29L43.74,75.29L43.84,75.28L43.94,75.27L44.04,75.25L44.14,75.23L44.24,75.2L44.34,75.17L44.44,75.12L44.54,75.07L44.64,75.01L44.74,74.94L44.84,74.85L44.94,74.75L45.04,74.63L45.14,74.5L45.24,74.34L45.34,74.16L45.44,73.96L45.54,73.73L45.63,73.47L45.73,73.19L45.83,72.87L45.93,72.52L46.03,72.13L46.13,71.72L46.23,71.26L46.33,70.77L46.43,70.24L46.53,69.68L46.63,69.09L46.73,68.46L46.83,67.8L46.93,67.12L47.03,66.41L47.13,65.69L47.23,64.95L47.33,64.21L47.43,63.46L47.53,62.72L47.63,61.99L47.73,61.27L47.83,60.59L47.93,59.93L48.02,59.32L48.12,58.75L48.22,58.24L48.32,57.79L48.42,57.41L48.52,57.1L48.62,56.87L48.72,56.72L48.82,56.66L48.92,56.68L49.02,56.8L49.12,57L49.22,57.3L49.32,57.68L49.42,58.15L49.52,58.71L49.62,59.35L49.72,60.07L49.82,60.86L49.92,61.72L50.02,62.64L50.12,63.62L50.22,64.66L50.32,65.75L50.42,66.88L50.51,68.06L50.61,69.27L50.71,70.51L50.81,71.78L50.91,73.07L51.01,74.39L51.11,75.73L51.21,77.08L51.31,78.44L51.41,79.82L51.51,81.2L51.61,82.59L51.71,83.99L51.81,85.39L51.91,86.78L52.01,88.18L52.11,89.56L52.21,90.94L52.31,92.3L52.41,93.64L52.51,94.96L52.61,96.25L52.71,97.5L52.81,98.72L52.91,99.89L53,101L53.1,102.06L53.2,103.05L53.3,103.97L53.4,104.81L53.5,105.58L53.6,106.25L53.7,106.83L53.8,107.31L53.9,107.7L54,107.98L54.1,108.15L54.2,108.22L54.3,108.19L54.4,108.05L54.5,107.8L54.6,107.46L54.7,107.02L54.8,106.48L54.9,105.85L55,105.14L55.1,104.35L55.2,103.49L55.3,102.57L55.4,101.59L55.49,100.55L55.59,99.47L55.69,98.35L55.79,97.2L55.89,96.03L55.99,94.84L56.09,93.63L56.19,92.42L56.29,91.2L56.39,89.98L56.49,88.76L56.59,87.55L56.69,86.35L56.79,85.15L56.89,83.97L56.99,82.8L57.09,81.64L57.19,80.49L57.29,79.35L57.39,78.23L57.49,77.11L57.59,76.01L57.69,74.92L57.79,73.84L57.89,72.77L57.98,71.72L58.08,70.68L58.18,69.66L58.28,68.66L58.38,67.68L58.48,66.72L58.58,65.8L58.68,64.91L58.78,64.06L58.88,63.25L58.98,62.49L59.08,61.78L59.18,61.13L59.28,60.54L59.38,60.02L59.48,59.56L59.58,59.19L59.68,58.89L59.78,58.67L59.88,58.53L59.98,58.47L60.08,58.49L60.18,58.59L60.28,58.77L60.38,59.03L60.47,59.35L60.57,59.75L60.67,60.2L60.77,60.71L60.87,61.28L60.97,61.88L61.07,62.53L61.17,63.2L61.27,63.9L61.37,64.61L61.47,65.34L61.57,66.07L61.67,66.79L61.77,67.51L61.87,68.22L61.97,68.91L62.07,69.57L62.17,70.21L62.27,70.83L62.37,71.41L62.47,71.96L62.57,72.48L62.67,72.96L62.77,73.41L62.86,73.83L62.96,74.21L63.06,74.56L63.16,74.88L63.26,75.17L63.36,75.43L63.46,75.66L63.56,75.87L63.66,76.06L63.76,76.22L63.86,76.37L63.96,76.5L64.06,76.61L64.16,76.71L64.26,76.8L64.36,76.88L64.46,76.94L64.56,77L64.66,77.05L64.76,77.09L64.86,77.13L64.96,77.16L65.06,77.19L65.16,77.22L65.26,77.24L65.35,77.26L65.45,77.28L65.55,77.29L65.65,77.31L65.75,77.32L65.85,77.33L65.95,77.35L66.05,77.36L66.15,77.37L66.25,77.38L66.35,77.39L66.45,77.4L66.55,77.41L66.65,77.42L66.75,77.43L66.85,77.44L66.95,77.45L67.05,77.46L67.15,77.46L67.25,77.47L67.35,77.48L67.45,77.49L67.55,77.5L67.65,77.51L67.75,77.52L67.84,77.53L67.94,77.54L68.04,77.55L68.14,77.55L68.24,77.56L68.34,77.57L68.44,77.58L68.54,77.59L68.64,77.6L68.74,77.61L68.84,77.62L68.94,77.63L69.04,77.64L69.14,77.64L69.24,77.65L69.34,77.66L69.44,77.67L69.54,77.68L69.64,77.69L69.74,77.7L69.84,77.71L69.94,77.72L70.04,77.73L70.14,77.73" fill="none" stroke="#f21d1d" stroke-width="1.55" stroke-linejoin="round" />
<text x="113.5" y="59.2" font-size="11.8" text-anchor="middle" class="serif" font-style="italic" style="stroke-width:0.2px">&#969;</text>
<text x="83.3" y="113.1" font-size="11.8" text-anchor="middle" class="serif" font-style="italic" style="stroke-width:0.2px">&#969;</text>
<polygon points="1.6,162.3 6.8,162.8 6.8,203.8 1.6,204.3" fill="#767676"/>
<polygon points="1.6,162.3 17.9,150.2 22.8,150.3 6.8,162.8" fill="#686868"/>
<polygon points="6.8,162.8 22.8,150.3 22.8,189.7 6.8,203.8" fill="url(#slabg)"/>
<path d="M22.6,150.6V189.6" stroke="#8a8a8a" stroke-width="0.6"/>
<ellipse cx="14.5" cy="175.2" rx="4.8" ry="14" fill="url(#yspot)"/>
<path d="M17,177.0L138.5,173.0" stroke="#c47a7a" stroke-width="0.9" fill="none"/>
<path d="M16,178.0L123.5,208.8" stroke="#8e1a1a" stroke-width="0.9" fill="none"/>
<path d="M127.5,209.9L121.04,210.65L122.42,205.84Z" fill="#8e1a1a"/>
<path d="M13.6,177.2L18.56,175.1L18.64,179.1Z" fill="#8e1a1a"/>
<path d="M26,179.39999999999998L131.8,188.89999999999998" stroke="#f21d1d" stroke-width="0.9" fill="none"/>
<path d="M23.3,179.2L28.99,177.3L28.56,182.08Z" fill="#f21d1d"/>
<path d="M111.34,178.63L138.29,158.57M108.51,183.11L140.51,159.29M107.35,186.34L141.05,161.26M107.89,188.31L139.89,164.49M110.11,189.03L137.06,168.97M116.56,178.3L130.71,167.77M117.69,179.83L131.84,169.3" stroke="#7a0a0a" stroke-width="1.0" fill="none"/>
<path d="M59.9,203.89L99.48,179.67M55.64,208.72L102.64,179.96M53.86,212.04L103.34,181.76M54.56,213.84L101.56,185.08M57.72,214.13L97.3,189.91M67.72,202.45L88.49,189.73M68.71,204.07L89.48,191.35" stroke="#7a0a0a" stroke-width="1.0" fill="none"/>
<path d="M37.06,181.07L37.16,181.07L37.26,181.08L37.36,181.09L37.46,181.1L37.56,181.11L37.66,181.12L37.76,181.13L37.86,181.14L37.96,181.15L38.06,181.16L38.16,181.16L38.26,181.17L38.36,181.18L38.46,181.19L38.56,181.2L38.66,181.21L38.76,181.22L38.86,181.23L38.96,181.24L39.06,181.25L39.16,181.25L39.26,181.26L39.36,181.27L39.45,181.28L39.55,181.29L39.65,181.3L39.75,181.31L39.85,181.32L39.95,181.33L40.05,181.33L40.15,181.34L40.25,181.35L40.35,181.36L40.45,181.37L40.55,181.38L40.65,181.39L40.75,181.4L40.85,181.41L40.95,181.42L41.05,181.42L41.15,181.43L41.25,181.44L41.35,181.45L41.45,181.46L41.55,181.47L41.65,181.48L41.75,181.49L41.85,181.5L41.94,181.51L42.04,181.51L42.14,181.52L42.24,181.53L42.34,181.54L42.44,181.55L42.54,181.56L42.64,181.57L42.74,181.58L42.84,181.59L42.94,181.59L43.04,181.6L43.14,181.61L43.24,181.62L43.34,181.63L43.44,181.64L43.54,181.65L43.64,181.66L43.74,181.67L43.84,181.68L43.94,181.68L44.04,181.69L44.14,181.7L44.24,181.71L44.34,181.72L44.44,181.73L44.54,181.74L44.64,181.75L44.74,181.75L44.84,181.76L44.94,181.77L45.04,181.78L45.15,181.78L45.25,181.78L45.36,181.79L45.48,181.78L45.6,181.78L45.73,181.76L45.87,181.74L46.02,181.71L46.2,181.66L46.39,181.6L46.62,181.51L46.89,181.39L47.2,181.24L47.57,181.05L48,180.81L48.5,180.52L49.09,180.16L49.77,179.74L50.54,179.24L51.42,178.66L52.41,178.01L53.49,177.28L54.68,176.47L55.95,175.6L57.3,174.68L58.69,173.72L60.1,172.74L61.51,171.76L62.88,170.82L64.18,169.93L65.36,169.13L66.4,168.43L67.27,167.87L67.93,167.45L68.37,167.21L68.58,167.13L68.55,167.24L68.28,167.52L67.79,167.98L67.09,168.58L66.21,169.33L65.18,170.19L64.02,171.14L62.78,172.16L61.47,173.22L60.14,174.3L58.8,175.39L57.49,176.46L56.21,177.5L54.97,178.51L53.78,179.49L52.64,180.42L51.55,181.33L50.5,182.2L49.47,183.06L48.45,183.9L47.43,184.75L46.4,185.61L45.35,186.48L44.25,187.39L43.12,188.32L41.93,189.3L40.69,190.31L39.39,191.37L38.06,192.45L36.68,193.57L35.28,194.7L33.87,195.85L32.46,196.98L31.08,198.1L29.75,199.18L28.49,200.21L27.33,201.17L26.27,202.04L25.36,202.81L24.6,203.47L24.01,203.99L23.61,204.38L23.4,204.61L23.4,204.7L23.6,204.63L24.01,204.41L24.61,204.05L25.39,203.54L26.35,202.9L27.47,202.15L28.72,201.3L30.08,200.36L31.54,199.35L33.07,198.29L34.64,197.19L36.24,196.07L37.84,194.95L39.43,193.85L40.99,192.76L42.51,191.7L43.98,190.69L45.39,189.71L46.74,188.78L48.03,187.9L49.27,187.06L50.45,186.25L51.59,185.48L52.71,184.73L53.81,183.98L54.91,183.24L56.02,182.49L57.15,181.73L58.32,180.94L59.53,180.11L60.79,179.25L62.1,178.35L63.45,177.42L64.84,176.47L66.24,175.5L67.65,174.53L69.03,173.58L70.35,172.66L71.6,171.81L72.74,171.04L73.73,170.38L74.56,169.84L75.2,169.45L75.64,169.2L75.86,169.12L75.85,169.21L75.64,169.45L75.22,169.85L74.61,170.39L73.84,171.05L72.95,171.81L71.95,172.64L70.88,173.53L69.77,174.44L68.66,175.36L67.57,176.26L66.52,177.13L65.55,177.94L64.65,178.7L63.84,179.39L63.12,180.01L62.5,180.56L61.98,181.04L61.55,181.44L61.2,181.79L60.93,182.08L60.72,182.31L60.58,182.51L60.48,182.66L60.43,182.79L60.41,182.88L60.42,182.96L60.45,183.02L60.5,183.07L60.56,183.11L60.63,183.13L60.71,183.16L60.8,183.18L60.89,183.19L60.98,183.21L61.08,183.22L61.17,183.23L61.27,183.24L61.37,183.25L61.47,183.26L61.57,183.27L61.67,183.28L61.76,183.29L61.86,183.3L61.96,183.31L62.06,183.32L62.16,183.32L62.26,183.33L62.36,183.34L62.46,183.35L62.56,183.36L62.66,183.37L62.76,183.38L62.86,183.39L62.96,183.4L63.06,183.41L63.16,183.41L63.26,183.42L63.36,183.43L63.46,183.44L63.56,183.45L63.66,183.46L63.76,183.47L63.86,183.48L63.96,183.49L64.06,183.49L64.15,183.5L64.25,183.51L64.35,183.52L64.45,183.53L64.55,183.54L64.65,183.55L64.75,183.56L64.85,183.57L64.95,183.58L65.05,183.58L65.15,183.59L65.25,183.6L65.35,183.61L65.45,183.62L65.55,183.63L65.65,183.64L65.75,183.65L65.85,183.66L65.95,183.67L66.05,183.67L66.15,183.68L66.25,183.69L66.35,183.7L66.45,183.71L66.55,183.72L66.64,183.73L66.74,183.74L66.84,183.75L66.94,183.75L67.04,183.76L67.14,183.77L67.24,183.78L67.34,183.79L67.44,183.8L67.54,183.81L67.64,183.82L67.74,183.83L67.84,183.84L67.94,183.84L68.04,183.85L68.14,183.86L68.24,183.87L68.34,183.88L68.44,183.89L68.54,183.9L68.64,183.91L68.74,183.92L68.84,183.93L68.94,183.93" fill="none" stroke="#f21d1d" stroke-width="1.05" stroke-linejoin="round" />
<text x="113.5" y="164.8" font-size="11.8" text-anchor="middle" class="serif" font-style="italic" style="stroke-width:0.2px">&#969;</text>
<text x="83.3" y="218.7" font-size="11.8" text-anchor="middle" class="serif" font-style="italic" style="stroke-width:0.2px">&#969;</text>
<text x="37" y="49.5" font-size="12"><tspan font-style="italic">E</tspan><tspan font-size="8.5" dy="2.7">THz</tspan><tspan dy="-2.7" font-style="italic" class="serif"> // </tspan><tspan class="serif" font-style="italic">a</tspan></text>
<text x="37" y="154.9" font-size="12"><tspan font-style="italic">E</tspan><tspan font-size="8.5" dy="2.7">THz</tspan><tspan dy="-2.7" font-style="italic" class="serif"> // </tspan><tspan class="serif" font-style="italic">b</tspan></text>
<path d="M30.9,255.9L30.9,231.5" stroke="#000" stroke-width="1.2"/>
<path d="M30.9,226.5L33.6,232.7L28.2,232.7Z" fill="#000"/>
<path d="M30.9,255.9L14.5,255.9" stroke="#000" stroke-width="1.2"/>
<path d="M9.5,255.9L15.7,253.2L15.7,258.6Z" fill="#000"/>
<path d="M30.9,255.9L43.81,242.68" stroke="#000" stroke-width="1.2"/>
<path d="M47.3,239.1L44.9,245.42L41.04,241.65Z" fill="#000"/>
<path d="M101.3,228.5L117,228.5" stroke="#000" stroke-width="1.2"/>
<path d="M122,228.5L115.8,231.2L115.8,225.8Z" fill="#000"/>
<path d="M101.3,228.5L101.3,253.4" stroke="#000" stroke-width="1.2"/>
<path d="M101.3,258.4L98.6,252.2L104,252.2Z" fill="#000"/>
<path d="M101.3,228.5L88.19,241.22" stroke="#000" stroke-width="1.2"/>
<path d="M84.6,244.7L87.17,238.45L90.93,242.32Z" fill="#000"/>
<text x="30.3" y="223.5" font-size="11.5" text-anchor="middle" class="serif" font-style="italic">a</text>
<text x="4.4" y="259.3" font-size="11.5" text-anchor="middle" class="serif" font-style="italic">c</text>
<text x="53.5" y="243.5" font-size="11.5" text-anchor="middle" class="serif" font-style="italic">b</text>
<text x="128" y="232" font-size="11.5" text-anchor="middle" class="serif" font-style="italic">c</text>
<text x="100.9" y="267" font-size="11.5" text-anchor="middle" class="serif" font-style="italic">a</text>
<text x="80.4" y="249.4" font-size="11.5" text-anchor="middle" class="serif" font-style="italic">b</text>
</svg></body></html>
